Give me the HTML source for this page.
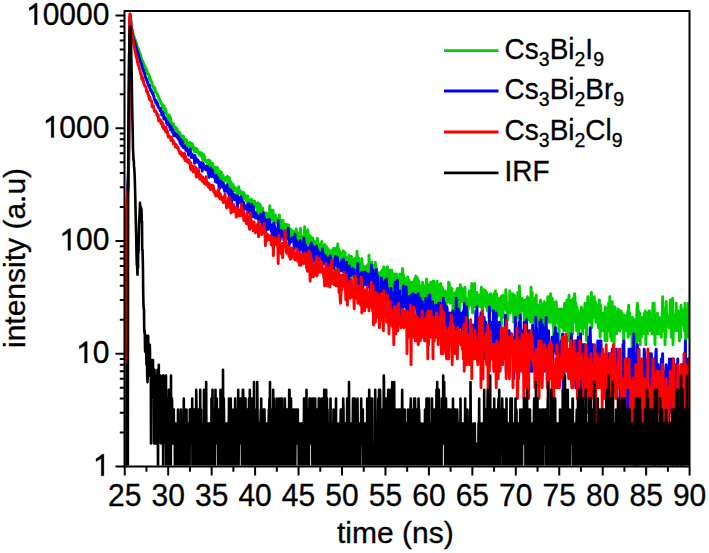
<!DOCTYPE html>
<html><head><meta charset="utf-8"><style>
html,body{margin:0;padding:0;background:#fff;}
svg{display:block;}
text{font-family:"Liberation Sans",sans-serif;fill:#000;}
.ax text{font-size:30px;}
.tk text{font-size:30px;}
text{stroke:#000;stroke-width:0.3px;}
.lg{font-size:28px;}
.sb{font-size:19.5px;}
</style></head><body>
<svg width="709" height="553" viewBox="0 0 709 553">
<defs><clipPath id="cp"><rect x="125.5" y="12" width="563.5" height="453.5"/></clipPath></defs>
<g clip-path="url(#cp)">
<path d="M121.0 490.0L121.4 490.0L121.8 490.0L122.2 490.0L122.6 490.0L123.0 490.0L123.4 490.0L123.8 490.0L124.2 466.5L124.6 490.0L125.0 490.0L125.4 490.0L125.8 282.3L126.2 229.7L126.6 212.8L127.0 204.0L127.4 197.7L127.8 185.6L128.2 180.6L128.6 164.4L129.0 127.9L129.4 55.9L129.8 20.6L130.2 15.9L130.6 17.8L131.0 22.4L131.4 26.0L131.8 28.7L132.2 29.4L132.6 31.4L133.0 32.7L133.4 35.5L133.8 37.0L134.2 37.1L134.6 38.6L135.0 40.1L135.4 39.9L135.8 42.0L136.2 42.4L136.6 43.8L137.0 45.6L137.4 47.8L137.8 47.6L138.2 48.4L138.6 50.3L139.0 51.2L139.4 52.0L139.8 53.7L140.2 54.3L140.6 55.0L141.0 57.6L141.4 58.0L141.8 60.1L142.2 60.2L142.6 60.8L143.0 62.4L143.4 62.7L143.8 64.3L144.2 64.6L144.6 66.4L145.0 66.6L145.4 67.7L145.8 69.6L146.2 68.7L146.6 70.7L147.0 71.0L147.4 73.4L147.8 74.2L148.2 74.0L148.6 74.0L149.0 75.7L149.4 78.7L149.8 76.6L150.2 80.8L150.6 79.2L151.0 81.9L151.4 82.0L151.8 81.7L152.2 84.6L152.6 85.5L153.0 86.3L153.4 86.7L153.8 88.4L154.2 86.9L154.6 88.0L155.0 88.6L155.4 92.3L155.8 92.2L156.2 91.8L156.6 92.9L157.0 93.4L157.4 94.8L157.8 96.1L158.2 95.9L158.6 97.3L159.0 99.0L159.4 98.9L159.8 100.2L160.2 101.0L160.6 101.4L161.0 103.5L161.4 102.7L161.8 104.5L162.2 105.5L162.6 107.7L163.0 104.8L163.4 107.5L163.8 106.1L164.2 106.5L164.6 111.8L165.0 110.0L165.4 110.2L165.8 109.1L166.2 111.7L166.6 114.5L167.0 113.9L167.4 115.0L167.8 116.2L168.2 114.9L168.6 117.6L169.0 118.6L169.4 114.9L169.8 119.6L170.2 118.7L170.6 117.7L171.0 120.9L171.4 123.6L171.8 124.2L172.2 125.7L172.6 124.2L173.0 126.9L173.4 123.6L173.8 126.0L174.2 128.1L174.6 127.4L175.0 126.7L175.4 128.8L175.8 129.3L176.2 127.6L176.6 130.8L177.0 128.8L177.4 131.1L177.8 131.4L178.2 131.3L178.6 132.2L179.0 132.8L179.4 133.2L179.8 132.6L180.2 137.6L180.6 137.4L181.0 136.0L181.4 135.5L181.8 136.0L182.2 136.7L182.6 136.7L183.0 139.1L183.4 136.2L183.8 138.4L184.2 139.0L184.6 142.4L185.0 142.6L185.4 144.7L185.8 139.5L186.2 143.1L186.6 140.3L187.0 145.0L187.4 144.5L187.8 142.9L188.2 144.2L188.6 145.9L189.0 143.7L189.4 145.6L189.8 142.5L190.2 143.6L190.6 149.2L191.0 143.1L191.4 146.6L191.8 145.9L192.2 148.9L192.6 143.9L193.0 149.4L193.4 147.9L193.8 147.4L194.2 151.9L194.6 147.6L195.0 148.2L195.4 151.4L195.8 148.4L196.2 151.6L196.6 148.7L197.0 149.1L197.4 150.0L197.8 153.0L198.2 153.0L198.6 151.8L199.0 152.8L199.4 152.9L199.8 155.2L200.2 153.2L200.6 155.9L201.0 154.1L201.4 152.6L201.8 152.9L202.2 157.5L202.6 159.2L203.0 160.1L203.4 156.0L203.8 154.4L204.2 157.8L204.6 156.3L205.0 160.9L205.4 159.7L205.8 161.0L206.2 161.7L206.6 161.2L207.0 160.4L207.4 163.4L207.8 165.2L208.2 161.0L208.6 165.1L209.0 159.9L209.4 168.7L209.8 161.5L210.2 160.9L210.6 163.7L211.0 163.0L211.4 166.1L211.8 169.2L212.2 164.5L212.6 163.2L213.0 166.9L213.4 168.8L213.8 167.0L214.2 168.2L214.6 172.8L215.0 167.1L215.4 171.9L215.8 169.1L216.2 170.1L216.6 173.9L217.0 167.2L217.4 174.0L217.8 168.1L218.2 178.8L218.6 171.3L219.0 176.0L219.4 172.1L219.8 171.2L220.2 173.2L220.6 176.4L221.0 181.5L221.4 172.3L221.8 175.0L222.2 177.1L222.6 177.2L223.0 175.2L223.4 178.5L223.8 177.3L224.2 181.4L224.6 179.8L225.0 179.9L225.4 178.0L225.8 177.6L226.2 180.8L226.6 178.5L227.0 178.3L227.4 176.5L227.8 177.9L228.2 182.7L228.6 187.2L229.0 178.5L229.4 177.7L229.8 187.2L230.2 181.5L230.6 181.4L231.0 186.9L231.4 184.0L231.8 184.5L232.2 191.8L232.6 183.9L233.0 184.7L233.4 186.2L233.8 191.1L234.2 187.2L234.6 187.9L235.0 189.0L235.4 187.7L235.8 189.9L236.2 190.2L236.6 190.6L237.0 195.5L237.4 190.4L237.8 189.4L238.2 192.2L238.6 186.6L239.0 188.5L239.4 193.3L239.8 190.4L240.2 190.4L240.6 193.1L241.0 192.4L241.4 195.5L241.8 192.9L242.2 192.2L242.6 200.0L243.0 195.5L243.4 192.5L243.8 192.9L244.2 198.7L244.6 198.5L245.0 194.8L245.4 198.1L245.8 197.5L246.2 200.6L246.6 200.9L247.0 197.3L247.4 196.1L247.8 195.9L248.2 205.1L248.6 203.5L249.0 207.8L249.4 200.4L249.8 204.9L250.2 199.6L250.6 202.4L251.0 203.7L251.4 210.3L251.8 199.4L252.2 207.8L252.6 201.5L253.0 209.6L253.4 203.3L253.8 202.4L254.2 204.7L254.6 200.9L255.0 205.6L255.4 204.9L255.8 207.3L256.2 203.1L256.6 207.6L257.0 207.3L257.4 216.8L257.8 211.4L258.2 202.6L258.6 209.1L259.0 205.6L259.4 207.1L259.8 216.2L260.2 204.4L260.6 207.3L261.0 211.4L261.4 216.2L261.8 209.8L262.2 211.7L262.6 208.0L263.0 212.8L263.4 223.5L263.8 224.5L264.2 213.3L264.6 224.9L265.0 215.3L265.4 218.0L265.8 212.8L266.2 214.4L266.6 216.5L267.0 213.3L267.4 217.7L267.8 218.9L268.2 221.5L268.6 219.5L269.0 218.0L269.4 216.8L269.8 205.6L270.2 224.5L270.6 209.8L271.0 219.9L271.4 213.3L271.8 216.5L272.2 211.9L272.6 217.4L273.0 210.3L273.4 215.0L273.8 223.5L274.2 214.7L274.6 223.8L275.0 218.6L275.4 215.0L275.8 219.5L276.2 220.2L276.6 217.7L277.0 222.5L277.4 220.2L277.8 221.1L278.2 220.2L278.6 226.7L279.0 222.1L279.4 215.0L279.8 226.3L280.2 227.8L280.6 227.8L281.0 228.5L281.4 220.5L281.8 233.7L282.2 221.8L282.6 228.5L283.0 220.2L283.4 232.1L283.8 230.5L284.2 234.6L284.6 224.9L285.0 226.3L285.4 227.4L285.8 224.2L286.2 228.5L286.6 224.5L287.0 230.5L287.4 226.7L287.8 232.1L288.2 230.1L288.6 224.9L289.0 233.7L289.4 229.7L289.8 231.7L290.2 231.7L290.6 229.3L291.0 238.1L291.4 232.5L291.8 231.7L292.2 232.1L292.6 230.9L293.0 233.7L293.4 236.3L293.8 240.5L294.2 233.3L294.6 231.7L295.0 232.1L295.4 237.2L295.8 237.7L296.2 228.9L296.6 231.7L297.0 235.5L297.4 238.6L297.8 243.0L298.2 237.7L298.6 244.0L299.0 232.9L299.4 233.7L299.8 235.5L300.2 238.6L300.6 228.2L301.0 240.0L301.4 240.5L301.8 243.5L302.2 236.3L302.6 236.8L303.0 247.3L303.4 237.2L303.8 243.5L304.2 245.1L304.6 226.7L305.0 235.5L305.4 239.1L305.8 237.2L306.2 234.2L306.6 242.0L307.0 247.8L307.4 248.4L307.8 229.7L308.2 242.0L308.6 249.5L309.0 241.5L309.4 244.0L309.8 235.5L310.2 249.5L310.6 237.7L311.0 236.8L311.4 249.0L311.8 248.4L312.2 249.0L312.6 238.1L313.0 242.0L313.4 241.5L313.8 242.5L314.2 241.0L314.6 246.2L315.0 252.5L315.4 246.7L315.8 245.6L316.2 248.4L316.6 242.0L317.0 247.8L317.4 238.1L317.8 249.0L318.2 253.2L318.6 251.3L319.0 247.8L319.4 246.2L319.8 250.1L320.2 244.0L320.6 252.5L321.0 253.2L321.4 246.2L321.8 241.5L322.2 246.2L322.6 245.6L323.0 255.7L323.4 249.5L323.8 252.5L324.2 248.4L324.6 246.2L325.0 244.6L325.4 258.5L325.8 249.5L326.2 252.5L326.6 246.7L327.0 257.1L327.4 251.3L327.8 248.4L328.2 255.7L328.6 251.9L329.0 250.1L329.4 251.3L329.8 255.7L330.2 255.7L330.6 256.4L331.0 255.7L331.4 257.8L331.8 261.3L332.2 250.1L332.6 258.5L333.0 257.8L333.4 248.4L333.8 257.1L334.2 253.2L334.6 254.4L335.0 248.4L335.4 249.0L335.8 272.1L336.2 255.7L336.6 262.1L337.0 247.3L337.4 258.5L337.8 244.0L338.2 251.3L338.6 249.0L339.0 267.7L339.4 267.7L339.8 254.4L340.2 251.3L340.6 257.1L341.0 258.5L341.4 253.8L341.8 269.4L342.2 259.9L342.6 257.8L343.0 257.8L343.4 250.7L343.8 265.2L344.2 270.3L344.6 262.9L345.0 252.5L345.4 262.1L345.8 257.8L346.2 257.1L346.6 270.3L347.0 261.3L347.4 263.6L347.8 268.5L348.2 261.3L348.6 257.8L349.0 255.1L349.4 269.4L349.8 257.8L350.2 265.2L350.6 274.0L351.0 261.3L351.4 256.4L351.8 274.9L352.2 270.3L352.6 266.0L353.0 276.9L353.4 259.9L353.8 259.2L354.2 262.9L354.6 262.9L355.0 258.5L355.4 261.3L355.8 275.9L356.2 276.9L356.6 262.9L357.0 251.3L357.4 259.9L357.8 262.9L358.2 262.1L358.6 257.8L359.0 279.0L359.4 270.3L359.8 271.2L360.2 274.9L360.6 266.0L361.0 262.1L361.4 263.6L361.8 258.5L362.2 263.6L362.6 266.0L363.0 272.1L363.4 269.4L363.8 266.8L364.2 279.0L364.6 273.0L365.0 274.0L365.4 266.8L365.8 275.9L366.2 272.1L366.6 266.0L367.0 269.4L367.4 274.9L367.8 275.9L368.2 264.4L368.6 275.9L369.0 255.1L369.4 272.1L369.8 265.2L370.2 264.4L370.6 262.1L371.0 265.2L371.4 276.9L371.8 262.1L372.2 269.4L372.6 265.2L373.0 274.9L373.4 271.2L373.8 276.9L374.2 273.0L374.6 270.3L375.0 268.5L375.4 262.1L375.8 274.9L376.2 287.1L376.6 268.5L377.0 276.9L377.4 278.0L377.8 276.9L378.2 274.0L378.6 273.0L379.0 276.9L379.4 273.0L379.8 284.7L380.2 279.0L380.6 285.9L381.0 278.0L381.4 271.2L381.8 279.0L382.2 270.3L382.6 280.1L383.0 276.9L383.4 274.0L383.8 266.8L384.2 293.8L384.6 278.0L385.0 268.5L385.4 274.0L385.8 280.1L386.2 300.0L386.6 275.9L387.0 282.3L387.4 266.8L387.8 285.9L388.2 274.9L388.6 279.0L389.0 289.7L389.4 278.0L389.8 270.3L390.2 276.9L390.6 279.0L391.0 279.0L391.4 292.4L391.8 270.3L392.2 305.1L392.6 275.9L393.0 279.0L393.4 274.0L393.8 276.9L394.2 280.1L394.6 274.0L395.0 276.9L395.4 278.0L395.8 282.3L396.2 279.0L396.6 274.0L397.0 291.0L397.4 284.7L397.8 281.2L398.2 279.0L398.6 284.7L399.0 293.8L399.4 281.2L399.8 274.0L400.2 276.9L400.6 287.1L401.0 287.1L401.4 274.9L401.8 291.0L402.2 274.9L402.6 268.5L403.0 274.0L403.4 274.9L403.8 276.9L404.2 289.7L404.6 278.0L405.0 285.9L405.4 288.4L405.8 298.3L406.2 285.9L406.6 315.1L407.0 279.0L407.4 289.7L407.8 276.9L408.2 295.3L408.6 291.0L409.0 280.1L409.4 283.5L409.8 310.9L410.2 282.3L410.6 287.1L411.0 283.5L411.4 285.9L411.8 288.4L412.2 301.6L412.6 282.3L413.0 307.0L413.4 292.4L413.8 291.0L414.2 295.3L414.6 279.0L415.0 282.3L415.4 281.2L415.8 275.9L416.2 289.7L416.6 298.3L417.0 298.3L417.4 278.0L417.8 288.4L418.2 280.1L418.6 291.0L419.0 281.2L419.4 300.0L419.8 292.4L420.2 285.9L420.6 307.0L421.0 298.3L421.4 305.1L421.8 298.3L422.2 289.7L422.6 282.3L423.0 292.4L423.4 303.3L423.8 296.8L424.2 295.3L424.6 285.9L425.0 289.7L425.4 285.9L425.8 288.4L426.2 288.4L426.6 279.0L427.0 296.8L427.4 305.1L427.8 303.3L428.2 284.7L428.6 305.1L429.0 287.1L429.4 308.9L429.8 296.8L430.2 305.1L430.6 282.3L431.0 291.0L431.4 293.8L431.8 292.4L432.2 283.5L432.6 300.0L433.0 281.2L433.4 301.6L433.8 281.2L434.2 296.8L434.6 300.0L435.0 305.1L435.4 287.1L435.8 288.4L436.2 288.4L436.6 298.3L437.0 281.2L437.4 313.0L437.8 284.7L438.2 289.7L438.6 300.0L439.0 307.0L439.4 287.1L439.8 291.0L440.2 300.0L440.6 283.5L441.0 303.3L441.4 289.7L441.8 305.1L442.2 287.1L442.6 289.7L443.0 292.4L443.4 301.6L443.8 292.4L444.2 310.9L444.6 292.4L445.0 305.1L445.4 291.0L445.8 298.3L446.2 305.1L446.6 300.0L447.0 298.3L447.4 300.0L447.8 295.3L448.2 300.0L448.6 282.3L449.0 301.6L449.4 283.5L449.8 303.3L450.2 287.1L450.6 298.3L451.0 293.8L451.4 291.0L451.8 288.4L452.2 303.3L452.6 295.3L453.0 310.9L453.4 293.8L453.8 313.0L454.2 301.6L454.6 296.8L455.0 295.3L455.4 292.4L455.8 303.3L456.2 300.0L456.6 301.6L457.0 289.7L457.4 288.4L457.8 317.4L458.2 319.8L458.6 296.8L459.0 308.9L459.4 325.0L459.8 303.3L460.2 284.7L460.6 298.3L461.0 287.1L461.4 292.4L461.8 293.8L462.2 288.4L462.6 301.6L463.0 292.4L463.4 301.6L463.8 291.0L464.2 289.7L464.6 296.8L465.0 287.1L465.4 301.6L465.8 298.3L466.2 300.0L466.6 307.0L467.0 315.1L467.4 327.8L467.8 303.3L468.2 308.9L468.6 301.6L469.0 292.4L469.4 291.0L469.8 298.3L470.2 300.0L470.6 305.1L471.0 293.8L471.4 295.3L471.8 283.5L472.2 307.0L472.6 313.0L473.0 303.3L473.4 292.4L473.8 291.0L474.2 307.0L474.6 283.5L475.0 307.0L475.4 307.0L475.8 303.3L476.2 300.0L476.6 293.8L477.0 292.4L477.4 307.0L477.8 303.3L478.2 301.6L478.6 295.3L479.0 296.8L479.4 301.6L479.8 296.8L480.2 296.8L480.6 307.0L481.0 292.4L481.4 287.1L481.8 291.0L482.2 308.9L482.6 317.4L483.0 298.3L483.4 292.4L483.8 289.7L484.2 296.8L484.6 300.0L485.0 292.4L485.4 305.1L485.8 291.0L486.2 307.0L486.6 292.4L487.0 296.8L487.4 310.9L487.8 305.1L488.2 296.8L488.6 296.8L489.0 317.4L489.4 295.3L489.8 308.9L490.2 308.9L490.6 293.8L491.0 305.1L491.4 310.9L491.8 301.6L492.2 307.0L492.6 308.9L493.0 303.3L493.4 301.6L493.8 293.8L494.2 300.0L494.6 313.0L495.0 303.3L495.4 291.0L495.8 307.0L496.2 313.0L496.6 293.8L497.0 317.4L497.4 315.1L497.8 308.9L498.2 298.3L498.6 305.1L499.0 315.1L499.4 303.3L499.8 315.1L500.2 313.0L500.6 305.1L501.0 296.8L501.4 325.0L501.8 298.3L502.2 305.1L502.6 295.3L503.0 317.4L503.4 307.0L503.8 301.6L504.2 308.9L504.6 307.0L505.0 301.6L505.4 298.3L505.8 289.7L506.2 293.8L506.6 310.9L507.0 307.0L507.4 317.4L507.8 319.8L508.2 310.9L508.6 303.3L509.0 308.9L509.4 313.0L509.8 291.0L510.2 313.0L510.6 303.3L511.0 293.8L511.4 310.9L511.8 300.0L512.2 305.1L512.6 293.8L513.0 310.9L513.4 308.9L513.8 322.3L514.2 317.4L514.6 295.3L515.0 313.0L515.4 300.0L515.8 303.3L516.2 319.8L516.6 313.0L517.0 301.6L517.4 317.4L517.8 292.4L518.2 310.9L518.6 307.0L519.0 308.9L519.4 285.9L519.8 308.9L520.2 337.3L520.6 310.9L521.0 305.1L521.4 300.0L521.8 300.0L522.2 298.3L522.6 305.1L523.0 300.0L523.4 310.9L523.8 305.1L524.2 319.8L524.6 313.0L525.0 307.0L525.4 300.0L525.8 330.7L526.2 315.1L526.6 315.1L527.0 319.8L527.4 296.8L527.8 315.1L528.2 308.9L528.6 319.8L529.0 305.1L529.4 298.3L529.8 319.8L530.2 305.1L530.6 322.3L531.0 287.1L531.4 298.3L531.8 317.4L532.2 292.4L532.6 303.3L533.0 308.9L533.4 322.3L533.8 305.1L534.2 317.4L534.6 298.3L535.0 315.1L535.4 300.0L535.8 310.9L536.2 295.3L536.6 325.0L537.0 307.0L537.4 322.3L537.8 305.1L538.2 308.9L538.6 325.0L539.0 308.9L539.4 319.8L539.8 317.4L540.2 305.1L540.6 300.0L541.0 327.8L541.4 319.8L541.8 313.0L542.2 305.1L542.6 310.9L543.0 307.0L543.4 340.9L543.8 303.3L544.2 301.6L544.6 310.9L545.0 303.3L545.4 305.1L545.8 307.0L546.2 307.0L546.6 315.1L547.0 315.1L547.4 317.4L547.8 296.8L548.2 317.4L548.6 319.8L549.0 322.3L549.4 317.4L549.8 317.4L550.2 322.3L550.6 293.8L551.0 319.8L551.4 301.6L551.8 307.0L552.2 298.3L552.6 307.0L553.0 325.0L553.4 310.9L553.8 349.1L554.2 303.3L554.6 319.8L555.0 330.7L555.4 308.9L555.8 301.6L556.2 301.6L556.6 310.9L557.0 322.3L557.4 315.1L557.8 308.9L558.2 322.3L558.6 308.9L559.0 344.8L559.4 313.0L559.8 317.4L560.2 317.4L560.6 317.4L561.0 308.9L561.4 325.0L561.8 308.9L562.2 327.8L562.6 325.0L563.0 327.8L563.4 319.8L563.8 330.7L564.2 315.1L564.6 303.3L565.0 313.0L565.4 322.3L565.8 315.1L566.2 330.7L566.6 307.0L567.0 300.0L567.4 301.6L567.8 308.9L568.2 313.0L568.6 340.9L569.0 295.3L569.4 325.0L569.8 333.9L570.2 313.0L570.6 315.1L571.0 303.3L571.4 305.1L571.8 300.0L572.2 303.3L572.6 333.9L573.0 319.8L573.4 298.3L573.8 301.6L574.2 308.9L574.6 293.8L575.0 296.8L575.4 322.3L575.8 303.3L576.2 308.9L576.6 330.7L577.0 307.0L577.4 319.8L577.8 310.9L578.2 310.9L578.6 340.9L579.0 333.9L579.4 315.1L579.8 313.0L580.2 327.8L580.6 317.4L581.0 322.3L581.4 307.0L581.8 313.0L582.2 317.4L582.6 333.9L583.0 315.1L583.4 310.9L583.8 327.8L584.2 310.9L584.6 308.9L585.0 303.3L585.4 315.1L585.8 327.8L586.2 322.3L586.6 340.9L587.0 315.1L587.4 317.4L587.8 296.8L588.2 296.8L588.6 313.0L589.0 307.0L589.4 315.1L589.8 322.3L590.2 315.1L590.6 322.3L591.0 319.8L591.4 292.4L591.8 327.8L592.2 319.8L592.6 317.4L593.0 317.4L593.4 305.1L593.8 310.9L594.2 296.8L594.6 313.0L595.0 317.4L595.4 301.6L595.8 322.3L596.2 305.1L596.6 315.1L597.0 305.1L597.4 305.1L597.8 308.9L598.2 327.8L598.6 327.8L599.0 303.3L599.4 300.0L599.8 325.0L600.2 337.3L600.6 305.1L601.0 315.1L601.4 322.3L601.8 330.7L602.2 315.1L602.6 330.7L603.0 322.3L603.4 313.0L603.8 322.3L604.2 325.0L604.6 315.1L605.0 340.9L605.4 307.0L605.8 315.1L606.2 319.8L606.6 327.8L607.0 340.9L607.4 317.4L607.8 315.1L608.2 317.4L608.6 303.3L609.0 319.8L609.4 330.7L609.8 296.8L610.2 322.3L610.6 337.3L611.0 305.1L611.4 310.9L611.8 340.9L612.2 301.6L612.6 322.3L613.0 317.4L613.4 319.8L613.8 308.9L614.2 344.8L614.6 313.0L615.0 307.0L615.4 325.0L615.8 313.0L616.2 327.8L616.6 333.9L617.0 322.3L617.4 330.7L617.8 317.4L618.2 308.9L618.6 310.9L619.0 313.0L619.4 322.3L619.8 330.7L620.2 327.8L620.6 317.4L621.0 310.9L621.4 322.3L621.8 327.8L622.2 313.0L622.6 325.0L623.0 325.0L623.4 319.8L623.8 344.8L624.2 317.4L624.6 315.1L625.0 319.8L625.4 322.3L625.8 322.3L626.2 315.1L626.6 330.7L627.0 317.4L627.4 317.4L627.8 310.9L628.2 337.3L628.6 305.1L629.0 325.0L629.4 317.4L629.8 313.0L630.2 333.9L630.6 330.7L631.0 322.3L631.4 325.0L631.8 325.0L632.2 358.9L632.6 317.4L633.0 340.9L633.4 319.8L633.8 327.8L634.2 327.8L634.6 325.0L635.0 319.8L635.4 340.9L635.8 349.1L636.2 358.9L636.6 319.8L637.0 308.9L637.4 303.3L637.8 307.0L638.2 325.0L638.6 310.9L639.0 340.9L639.4 319.8L639.8 313.0L640.2 344.8L640.6 317.4L641.0 317.4L641.4 337.3L641.8 322.3L642.2 319.8L642.6 327.8L643.0 317.4L643.4 333.9L643.8 319.8L644.2 317.4L644.6 313.0L645.0 322.3L645.4 310.9L645.8 344.8L646.2 330.7L646.6 319.8L647.0 330.7L647.4 333.9L647.8 313.0L648.2 327.8L648.6 313.0L649.0 310.9L649.4 310.9L649.8 315.1L650.2 330.7L650.6 317.4L651.0 319.8L651.4 317.4L651.8 322.3L652.2 333.9L652.6 313.0L653.0 303.3L653.4 310.9L653.8 333.9L654.2 303.3L654.6 325.0L655.0 344.8L655.4 317.4L655.8 322.3L656.2 315.1L656.6 330.7L657.0 325.0L657.4 313.0L657.8 333.9L658.2 325.0L658.6 317.4L659.0 317.4L659.4 333.9L659.8 319.8L660.2 319.8L660.6 319.8L661.0 333.9L661.4 337.3L661.8 319.8L662.2 313.0L662.6 296.8L663.0 310.9L663.4 330.7L663.8 330.7L664.2 315.1L664.6 308.9L665.0 344.8L665.4 317.4L665.8 337.3L666.2 301.6L666.6 315.1L667.0 315.1L667.4 319.8L667.8 325.0L668.2 322.3L668.6 317.4L669.0 327.8L669.4 327.8L669.8 317.4L670.2 300.0L670.6 325.0L671.0 319.8L671.4 337.3L671.8 308.9L672.2 325.0L672.6 298.3L673.0 344.8L673.4 325.0L673.8 325.0L674.2 322.3L674.6 315.1L675.0 322.3L675.4 319.8L675.8 330.7L676.2 303.3L676.6 313.0L677.0 327.8L677.4 330.7L677.8 310.9L678.2 315.1L678.6 317.4L679.0 315.1L679.4 340.9L679.8 310.9L680.2 319.8L680.6 337.3L681.0 305.1L681.4 319.8L681.8 308.9L682.2 315.1L682.6 317.4L683.0 325.0L683.4 322.3L683.8 315.1L684.2 330.7L684.6 319.8L685.0 303.3L685.4 327.8L685.8 340.9L686.2 333.9L686.6 322.3L687.0 327.8L687.4 330.7L687.8 322.3L688.2 303.3L688.6 337.3L689.0 322.3L689.4 310.9L689.8 313.0L690.2 330.7L690.6 308.9L691.0 340.9L691.4 319.8L691.8 303.3L692.2 340.9L692.6 322.3" stroke="#00d000" stroke-width="2.9" fill="none" stroke-linejoin="round"/>
<path d="M121.0 490.0L121.4 490.0L121.8 490.0L122.2 490.0L122.6 490.0L123.0 490.0L123.4 490.0L123.8 490.0L124.2 490.0L124.6 490.0L125.0 490.0L125.4 466.5L125.8 288.4L126.2 228.2L126.6 211.7L127.0 201.1L127.4 193.5L127.8 188.5L128.2 179.9L128.6 166.6L129.0 128.6L129.4 55.0L129.8 20.4L130.2 16.6L130.6 18.5L131.0 24.5L131.4 29.5L131.8 30.3L132.2 33.0L132.6 35.1L133.0 36.1L133.4 38.6L133.8 40.0L134.2 40.3L134.6 42.3L135.0 43.0L135.4 45.6L135.8 46.0L136.2 47.9L136.6 48.9L137.0 50.4L137.4 51.0L137.8 52.8L138.2 54.1L138.6 55.4L139.0 57.7L139.4 58.0L139.8 59.3L140.2 61.4L140.6 61.9L141.0 63.2L141.4 63.5L141.8 65.8L142.2 66.9L142.6 68.3L143.0 70.1L143.4 71.3L143.8 70.1L144.2 73.5L144.6 72.9L145.0 75.3L145.4 76.9L145.8 77.9L146.2 79.7L146.6 79.1L147.0 81.1L147.4 82.0L147.8 83.2L148.2 83.9L148.6 85.7L149.0 84.9L149.4 84.9L149.8 88.4L150.2 88.4L150.6 90.5L151.0 90.1L151.4 91.3L151.8 90.7L152.2 93.2L152.6 92.6L153.0 93.9L153.4 95.4L153.8 95.8L154.2 99.0L154.6 99.5L155.0 99.7L155.4 100.0L155.8 102.8L156.2 100.8L156.6 102.2L157.0 104.7L157.4 102.8L157.8 104.0L158.2 106.7L158.6 107.5L159.0 107.4L159.4 108.5L159.8 108.1L160.2 110.7L160.6 108.4L161.0 111.7L161.4 111.6L161.8 115.1L162.2 113.6L162.6 111.8L163.0 114.5L163.4 113.3L163.8 119.0L164.2 119.1L164.6 117.2L165.0 118.3L165.4 119.4L165.8 118.6L166.2 119.6L166.6 123.2L167.0 121.5L167.4 124.8L167.8 122.7L168.2 121.9L168.6 124.0L169.0 125.0L169.4 124.3L169.8 127.5L170.2 126.0L170.6 130.0L171.0 126.4L171.4 127.9L171.8 130.0L172.2 130.1L172.6 132.5L173.0 130.0L173.4 131.4L173.8 135.8L174.2 132.2L174.6 132.9L175.0 134.8L175.4 135.7L175.8 134.7L176.2 136.0L176.6 133.9L177.0 137.0L177.4 136.0L177.8 135.6L178.2 139.1L178.6 136.6L179.0 137.6L179.4 139.5L179.8 141.4L180.2 143.6L180.6 141.7L181.0 141.1L181.4 139.8L181.8 145.9L182.2 141.1L182.6 144.5L183.0 146.3L183.4 147.7L183.8 146.0L184.2 146.5L184.6 145.9L185.0 147.6L185.4 147.2L185.8 150.4L186.2 148.4L186.6 150.7L187.0 147.9L187.4 151.3L187.8 149.4L188.2 151.7L188.6 155.3L189.0 152.1L189.4 153.4L189.8 154.3L190.2 149.0L190.6 153.8L191.0 154.8L191.4 157.5L191.8 154.1L192.2 154.3L192.6 156.1L193.0 157.3L193.4 156.6L193.8 158.2L194.2 158.4L194.6 163.2L195.0 155.5L195.4 158.2L195.8 159.9L196.2 162.0L196.6 158.9L197.0 160.6L197.4 161.5L197.8 159.9L198.2 161.9L198.6 162.9L199.0 161.7L199.4 162.2L199.8 167.4L200.2 163.4L200.6 167.2L201.0 164.2L201.4 166.4L201.8 162.6L202.2 171.1L202.6 163.8L203.0 163.2L203.4 164.7L203.8 168.2L204.2 165.6L204.6 167.2L205.0 166.3L205.4 169.3L205.8 169.7L206.2 169.3L206.6 166.5L207.0 169.7L207.4 166.4L207.8 168.7L208.2 172.6L208.6 173.7L209.0 177.3L209.4 170.5L209.8 172.0L210.2 174.7L210.6 168.1L211.0 172.9L211.4 174.6L211.8 176.5L212.2 174.2L212.6 170.3L213.0 175.9L213.4 175.0L213.8 177.1L214.2 175.5L214.6 176.3L215.0 176.9L215.4 181.7L215.8 178.1L216.2 175.5L216.6 182.2L217.0 177.9L217.4 178.5L217.8 177.7L218.2 183.0L218.6 182.4L219.0 187.0L219.4 181.9L219.8 188.2L220.2 182.8L220.6 180.9L221.0 186.6L221.4 182.5L221.8 182.1L222.2 185.6L222.6 187.2L223.0 184.8L223.4 183.3L223.8 186.7L224.2 187.5L224.6 191.3L225.0 187.0L225.4 186.4L225.8 188.0L226.2 190.9L226.6 187.9L227.0 184.7L227.4 189.5L227.8 192.5L228.2 192.5L228.6 192.5L229.0 194.6L229.4 196.1L229.8 189.5L230.2 190.4L230.6 190.1L231.0 191.3L231.4 205.6L231.8 197.9L232.2 192.0L232.6 194.0L233.0 199.2L233.4 198.3L233.8 194.4L234.2 197.5L234.6 199.8L235.0 196.3L235.4 195.5L235.8 196.7L236.2 199.4L236.6 200.2L237.0 201.1L237.4 208.0L237.8 195.9L238.2 200.4L238.6 199.4L239.0 199.6L239.4 201.9L239.8 201.7L240.2 202.6L240.6 198.1L241.0 196.7L241.4 200.0L241.8 200.2L242.2 201.1L242.6 206.1L243.0 206.1L243.4 202.2L243.8 203.1L244.2 208.6L244.6 209.1L245.0 205.8L245.4 206.8L245.8 208.6L246.2 209.1L246.6 206.1L247.0 207.8L247.4 208.3L247.8 203.7L248.2 212.2L248.6 203.7L249.0 207.3L249.4 207.6L249.8 213.0L250.2 210.1L250.6 208.8L251.0 216.8L251.4 209.6L251.8 204.4L252.2 213.3L252.6 210.1L253.0 216.5L253.4 206.6L253.8 212.8L254.2 216.8L254.6 214.7L255.0 212.5L255.4 218.0L255.8 213.3L256.2 213.9L256.6 217.1L257.0 216.2L257.4 218.3L257.8 215.9L258.2 217.7L258.6 219.2L259.0 223.8L259.4 218.9L259.8 217.1L260.2 221.1L260.6 214.7L261.0 216.8L261.4 218.0L261.8 221.8L262.2 215.9L262.6 226.7L263.0 218.6L263.4 212.8L263.8 222.5L264.2 216.8L264.6 221.1L265.0 222.1L265.4 225.2L265.8 230.9L266.2 221.5L266.6 221.1L267.0 219.9L267.4 229.7L267.8 224.9L268.2 223.8L268.6 227.4L269.0 227.4L269.4 219.5L269.8 228.9L270.2 227.8L270.6 224.5L271.0 227.4L271.4 231.3L271.8 228.2L272.2 236.8L272.6 227.8L273.0 235.9L273.4 224.9L273.8 223.1L274.2 226.7L274.6 226.3L275.0 236.3L275.4 230.9L275.8 232.5L276.2 229.7L276.6 231.3L277.0 238.1L277.4 232.5L277.8 231.3L278.2 220.8L278.6 230.1L279.0 229.7L279.4 235.0L279.8 241.0L280.2 240.0L280.6 233.7L281.0 230.1L281.4 234.2L281.8 235.5L282.2 231.3L282.6 235.9L283.0 232.5L283.4 233.7L283.8 240.0L284.2 235.5L284.6 234.6L285.0 239.1L285.4 242.0L285.8 233.3L286.2 233.7L286.6 234.2L287.0 236.8L287.4 238.6L287.8 235.5L288.2 228.2L288.6 232.9L289.0 245.6L289.4 243.5L289.8 241.0L290.2 242.5L290.6 239.6L291.0 239.6L291.4 241.5L291.8 238.1L292.2 241.0L292.6 238.1L293.0 237.7L293.4 241.5L293.8 240.5L294.2 249.0L294.6 239.1L295.0 234.2L295.4 243.0L295.8 244.6L296.2 240.5L296.6 241.0L297.0 246.2L297.4 247.8L297.8 244.0L298.2 244.0L298.6 245.1L299.0 254.4L299.4 247.3L299.8 243.0L300.2 240.5L300.6 246.7L301.0 244.0L301.4 249.0L301.8 249.5L302.2 247.3L302.6 249.0L303.0 252.5L303.4 251.9L303.8 238.1L304.2 241.5L304.6 248.4L305.0 245.1L305.4 250.1L305.8 245.1L306.2 250.7L306.6 253.2L307.0 247.8L307.4 253.2L307.8 253.2L308.2 250.1L308.6 249.0L309.0 255.7L309.4 248.4L309.8 247.3L310.2 249.5L310.6 247.3L311.0 244.0L311.4 243.0L311.8 251.3L312.2 262.9L312.6 245.6L313.0 254.4L313.4 253.8L313.8 248.4L314.2 259.9L314.6 256.4L315.0 256.4L315.4 247.3L315.8 266.8L316.2 248.4L316.6 246.2L317.0 253.2L317.4 249.5L317.8 259.9L318.2 251.3L318.6 262.1L319.0 256.4L319.4 254.4L319.8 253.2L320.2 257.8L320.6 254.4L321.0 259.2L321.4 255.1L321.8 259.9L322.2 252.5L322.6 249.0L323.0 260.6L323.4 263.6L323.8 259.9L324.2 263.6L324.6 255.1L325.0 260.6L325.4 261.3L325.8 256.4L326.2 262.9L326.6 264.4L327.0 266.0L327.4 263.6L327.8 268.5L328.2 258.5L328.6 259.9L329.0 267.7L329.4 264.4L329.8 259.9L330.2 255.7L330.6 264.4L331.0 262.9L331.4 273.0L331.8 259.9L332.2 260.6L332.6 263.6L333.0 265.2L333.4 268.5L333.8 266.0L334.2 265.2L334.6 264.4L335.0 259.9L335.4 256.4L335.8 262.9L336.2 262.1L336.6 259.2L337.0 266.0L337.4 257.8L337.8 264.4L338.2 266.0L338.6 271.2L339.0 270.3L339.4 263.6L339.8 271.2L340.2 267.7L340.6 267.7L341.0 264.4L341.4 268.5L341.8 260.6L342.2 268.5L342.6 271.2L343.0 263.6L343.4 259.2L343.8 264.4L344.2 267.7L344.6 271.2L345.0 280.1L345.4 288.4L345.8 274.9L346.2 265.2L346.6 262.1L347.0 282.3L347.4 281.2L347.8 273.0L348.2 266.8L348.6 266.8L349.0 282.3L349.4 266.0L349.8 272.1L350.2 274.9L350.6 275.9L351.0 274.9L351.4 270.3L351.8 274.0L352.2 270.3L352.6 268.5L353.0 271.2L353.4 273.0L353.8 269.4L354.2 270.3L354.6 275.9L355.0 280.1L355.4 278.0L355.8 287.1L356.2 275.9L356.6 278.0L357.0 274.9L357.4 278.0L357.8 263.6L358.2 284.7L358.6 274.9L359.0 285.9L359.4 288.4L359.8 276.9L360.2 284.7L360.6 284.7L361.0 273.0L361.4 276.9L361.8 285.9L362.2 273.0L362.6 310.9L363.0 272.1L363.4 272.1L363.8 279.0L364.2 284.7L364.6 284.7L365.0 272.1L365.4 280.1L365.8 278.0L366.2 283.5L366.6 284.7L367.0 274.0L367.4 284.7L367.8 287.1L368.2 283.5L368.6 279.0L369.0 285.9L369.4 274.0L369.8 280.1L370.2 291.0L370.6 288.4L371.0 289.7L371.4 265.2L371.8 284.7L372.2 284.7L372.6 285.9L373.0 270.3L373.4 275.9L373.8 293.8L374.2 278.0L374.6 284.7L375.0 279.0L375.4 282.3L375.8 305.1L376.2 269.4L376.6 292.4L377.0 285.9L377.4 288.4L377.8 275.9L378.2 284.7L378.6 295.3L379.0 289.7L379.4 288.4L379.8 288.4L380.2 296.8L380.6 296.8L381.0 319.8L381.4 278.0L381.8 288.4L382.2 281.2L382.6 291.0L383.0 282.3L383.4 293.8L383.8 298.3L384.2 307.0L384.6 301.6L385.0 287.1L385.4 280.1L385.8 303.3L386.2 288.4L386.6 279.0L387.0 292.4L387.4 287.1L387.8 292.4L388.2 300.0L388.6 291.0L389.0 291.0L389.4 301.6L389.8 310.9L390.2 298.3L390.6 319.8L391.0 288.4L391.4 307.0L391.8 292.4L392.2 300.0L392.6 325.0L393.0 301.6L393.4 296.8L393.8 295.3L394.2 310.9L394.6 310.9L395.0 282.3L395.4 282.3L395.8 291.0L396.2 322.3L396.6 285.9L397.0 305.1L397.4 280.1L397.8 301.6L398.2 315.1L398.6 307.0L399.0 296.8L399.4 301.6L399.8 291.0L400.2 305.1L400.6 303.3L401.0 298.3L401.4 322.3L401.8 307.0L402.2 305.1L402.6 305.1L403.0 295.3L403.4 285.9L403.8 292.4L404.2 307.0L404.6 305.1L405.0 303.3L405.4 298.3L405.8 293.8L406.2 287.1L406.6 301.6L407.0 313.0L407.4 310.9L407.8 298.3L408.2 300.0L408.6 308.9L409.0 296.8L409.4 296.8L409.8 303.3L410.2 308.9L410.6 301.6L411.0 305.1L411.4 295.3L411.8 300.0L412.2 295.3L412.6 308.9L413.0 293.8L413.4 313.0L413.8 308.9L414.2 300.0L414.6 295.3L415.0 307.0L415.4 295.3L415.8 307.0L416.2 300.0L416.6 301.6L417.0 315.1L417.4 308.9L417.8 327.8L418.2 293.8L418.6 315.1L419.0 337.3L419.4 303.3L419.8 298.3L420.2 298.3L420.6 307.0L421.0 310.9L421.4 330.7L421.8 310.9L422.2 301.6L422.6 315.1L423.0 317.4L423.4 325.0L423.8 313.0L424.2 305.1L424.6 313.0L425.0 337.3L425.4 327.8L425.8 298.3L426.2 327.8L426.6 325.0L427.0 315.1L427.4 310.9L427.8 330.7L428.2 327.8L428.6 300.0L429.0 295.3L429.4 330.7L429.8 295.3L430.2 317.4L430.6 315.1L431.0 325.0L431.4 322.3L431.8 317.4L432.2 319.8L432.6 301.6L433.0 315.1L433.4 313.0L433.8 315.1L434.2 315.1L434.6 319.8L435.0 325.0L435.4 315.1L435.8 305.1L436.2 308.9L436.6 313.0L437.0 325.0L437.4 310.9L437.8 317.4L438.2 337.3L438.6 303.3L439.0 310.9L439.4 337.3L439.8 322.3L440.2 303.3L440.6 317.4L441.0 308.9L441.4 325.0L441.8 315.1L442.2 307.0L442.6 313.0L443.0 317.4L443.4 298.3L443.8 313.0L444.2 322.3L444.6 303.3L445.0 308.9L445.4 333.9L445.8 325.0L446.2 322.3L446.6 340.9L447.0 307.0L447.4 317.4L447.8 337.3L448.2 315.1L448.6 325.0L449.0 322.3L449.4 313.0L449.8 325.0L450.2 322.3L450.6 333.9L451.0 325.0L451.4 313.0L451.8 313.0L452.2 325.0L452.6 319.8L453.0 310.9L453.4 319.8L453.8 315.1L454.2 313.0L454.6 337.3L455.0 325.0L455.4 322.3L455.8 337.3L456.2 298.3L456.6 340.9L457.0 315.1L457.4 327.8L457.8 322.3L458.2 308.9L458.6 317.4L459.0 315.1L459.4 325.0L459.8 327.8L460.2 319.8L460.6 313.0L461.0 315.1L461.4 322.3L461.8 325.0L462.2 317.4L462.6 344.8L463.0 317.4L463.4 310.9L463.8 337.3L464.2 303.3L464.6 353.8L465.0 333.9L465.4 319.8L465.8 308.9L466.2 337.3L466.6 307.0L467.0 322.3L467.4 319.8L467.8 330.7L468.2 333.9L468.6 337.3L469.0 325.0L469.4 327.8L469.8 333.9L470.2 325.0L470.6 327.8L471.0 325.0L471.4 327.8L471.8 333.9L472.2 333.9L472.6 330.7L473.0 340.9L473.4 325.0L473.8 333.9L474.2 330.7L474.6 340.9L475.0 340.9L475.4 330.7L475.8 310.9L476.2 322.3L476.6 358.9L477.0 307.0L477.4 340.9L477.8 349.1L478.2 322.3L478.6 344.8L479.0 337.3L479.4 349.1L479.8 337.3L480.2 319.8L480.6 317.4L481.0 313.0L481.4 322.3L481.8 330.7L482.2 315.1L482.6 337.3L483.0 333.9L483.4 317.4L483.8 344.8L484.2 317.4L484.6 330.7L485.0 344.8L485.4 358.9L485.8 322.3L486.2 333.9L486.6 327.8L487.0 327.8L487.4 349.1L487.8 344.8L488.2 349.1L488.6 344.8L489.0 358.9L489.4 307.0L489.8 353.8L490.2 330.7L490.6 349.1L491.0 322.3L491.4 325.0L491.8 327.8L492.2 325.0L492.6 349.1L493.0 340.9L493.4 310.9L493.8 344.8L494.2 319.8L494.6 330.7L495.0 325.0L495.4 327.8L495.8 322.3L496.2 313.0L496.6 333.9L497.0 349.1L497.4 349.1L497.8 337.3L498.2 327.8L498.6 340.9L499.0 333.9L499.4 322.3L499.8 349.1L500.2 364.7L500.6 340.9L501.0 330.7L501.4 353.8L501.8 337.3L502.2 349.1L502.6 358.9L503.0 337.3L503.4 344.8L503.8 353.8L504.2 340.9L504.6 330.7L505.0 330.7L505.4 315.1L505.8 349.1L506.2 371.2L506.6 349.1L507.0 330.7L507.4 353.8L507.8 344.8L508.2 333.9L508.6 358.9L509.0 330.7L509.4 333.9L509.8 337.3L510.2 340.9L510.6 344.8L511.0 344.8L511.4 333.9L511.8 337.3L512.2 349.1L512.6 353.8L513.0 337.3L513.4 353.8L513.8 378.8L514.2 353.8L514.6 344.8L515.0 337.3L515.4 317.4L515.8 337.3L516.2 337.3L516.6 349.1L517.0 340.9L517.4 344.8L517.8 330.7L518.2 333.9L518.6 337.3L519.0 322.3L519.4 340.9L519.8 344.8L520.2 315.1L520.6 337.3L521.0 349.1L521.4 358.9L521.8 330.7L522.2 330.7L522.6 333.9L523.0 358.9L523.4 349.1L523.8 344.8L524.2 322.3L524.6 344.8L525.0 349.1L525.4 340.9L525.8 349.1L526.2 344.8L526.6 319.8L527.0 349.1L527.4 340.9L527.8 344.8L528.2 344.8L528.6 353.8L529.0 333.9L529.4 330.7L529.8 353.8L530.2 333.9L530.6 353.8L531.0 371.2L531.4 340.9L531.8 353.8L532.2 371.2L532.6 325.0L533.0 353.8L533.4 330.7L533.8 353.8L534.2 344.8L534.6 344.8L535.0 349.1L535.4 364.7L535.8 317.4L536.2 364.7L536.6 327.8L537.0 353.8L537.4 358.9L537.8 344.8L538.2 353.8L538.6 358.9L539.0 340.9L539.4 344.8L539.8 322.3L540.2 364.7L540.6 327.8L541.0 319.8L541.4 337.3L541.8 344.8L542.2 364.7L542.6 325.0L543.0 349.1L543.4 330.7L543.8 349.1L544.2 371.2L544.6 327.8L545.0 353.8L545.4 333.9L545.8 337.3L546.2 317.4L546.6 349.1L547.0 371.2L547.4 333.9L547.8 337.3L548.2 340.9L548.6 330.7L549.0 344.8L549.4 378.8L549.8 344.8L550.2 353.8L550.6 353.8L551.0 364.7L551.4 344.8L551.8 353.8L552.2 337.3L552.6 378.8L553.0 353.8L553.4 349.1L553.8 340.9L554.2 340.9L554.6 333.9L555.0 344.8L555.4 327.8L555.8 344.8L556.2 353.8L556.6 353.8L557.0 353.8L557.4 333.9L557.8 364.7L558.2 358.9L558.6 349.1L559.0 344.8L559.4 364.7L559.8 353.8L560.2 353.8L560.6 364.7L561.0 340.9L561.4 340.9L561.8 371.2L562.2 364.7L562.6 333.9L563.0 364.7L563.4 412.7L563.8 387.7L564.2 364.7L564.6 364.7L565.0 353.8L565.4 344.8L565.8 358.9L566.2 340.9L566.6 353.8L567.0 349.1L567.4 349.1L567.8 353.8L568.2 364.7L568.6 371.2L569.0 364.7L569.4 371.2L569.8 364.7L570.2 353.8L570.6 353.8L571.0 349.1L571.4 333.9L571.8 358.9L572.2 353.8L572.6 349.1L573.0 353.8L573.4 364.7L573.8 349.1L574.2 344.8L574.6 364.7L575.0 353.8L575.4 340.9L575.8 387.7L576.2 387.7L576.6 340.9L577.0 358.9L577.4 364.7L577.8 358.9L578.2 337.3L578.6 387.7L579.0 353.8L579.4 353.8L579.8 340.9L580.2 344.8L580.6 333.9L581.0 398.6L581.4 358.9L581.8 353.8L582.2 378.8L582.6 358.9L583.0 344.8L583.4 344.8L583.8 353.8L584.2 344.8L584.6 371.2L585.0 344.8L585.4 371.2L585.8 378.8L586.2 364.7L586.6 353.8L587.0 378.8L587.4 378.8L587.8 349.1L588.2 387.7L588.6 337.3L589.0 364.7L589.4 387.7L589.8 353.8L590.2 327.8L590.6 344.8L591.0 371.2L591.4 378.8L591.8 371.2L592.2 364.7L592.6 344.8L593.0 364.7L593.4 378.8L593.8 364.7L594.2 378.8L594.6 349.1L595.0 358.9L595.4 364.7L595.8 364.7L596.2 353.8L596.6 387.7L597.0 364.7L597.4 364.7L597.8 340.9L598.2 371.2L598.6 353.8L599.0 378.8L599.4 349.1L599.8 353.8L600.2 340.9L600.6 364.7L601.0 340.9L601.4 364.7L601.8 364.7L602.2 371.2L602.6 358.9L603.0 387.7L603.4 358.9L603.8 378.8L604.2 378.8L604.6 378.8L605.0 358.9L605.4 364.7L605.8 371.2L606.2 371.2L606.6 364.7L607.0 387.7L607.4 387.7L607.8 398.6L608.2 387.7L608.6 353.8L609.0 353.8L609.4 378.8L609.8 358.9L610.2 387.7L610.6 353.8L611.0 398.6L611.4 378.8L611.8 387.7L612.2 349.1L612.6 378.8L613.0 349.1L613.4 349.1L613.8 371.2L614.2 353.8L614.6 349.1L615.0 364.7L615.4 364.7L615.8 378.8L616.2 349.1L616.6 371.2L617.0 371.2L617.4 353.8L617.8 358.9L618.2 358.9L618.6 387.7L619.0 387.7L619.4 371.2L619.8 371.2L620.2 432.6L620.6 412.7L621.0 364.7L621.4 371.2L621.8 378.8L622.2 387.7L622.6 378.8L623.0 344.8L623.4 398.6L623.8 340.9L624.2 364.7L624.6 364.7L625.0 432.6L625.4 378.8L625.8 364.7L626.2 378.8L626.6 398.6L627.0 358.9L627.4 387.7L627.8 378.8L628.2 432.6L628.6 371.2L629.0 349.1L629.4 387.7L629.8 349.1L630.2 378.8L630.6 387.7L631.0 349.1L631.4 353.8L631.8 371.2L632.2 364.7L632.6 378.8L633.0 358.9L633.4 387.7L633.8 333.9L634.2 466.5L634.6 398.6L635.0 387.7L635.4 412.7L635.8 371.2L636.2 358.9L636.6 353.8L637.0 387.7L637.4 344.8L637.8 387.7L638.2 378.8L638.6 364.7L639.0 349.1L639.4 387.7L639.8 412.7L640.2 398.6L640.6 371.2L641.0 378.8L641.4 378.8L641.8 378.8L642.2 378.8L642.6 378.8L643.0 387.7L643.4 358.9L643.8 378.8L644.2 349.1L644.6 353.8L645.0 412.7L645.4 358.9L645.8 412.7L646.2 378.8L646.6 378.8L647.0 371.2L647.4 371.2L647.8 364.7L648.2 412.7L648.6 364.7L649.0 378.8L649.4 353.8L649.8 387.7L650.2 358.9L650.6 432.6L651.0 412.7L651.4 353.8L651.8 371.2L652.2 387.7L652.6 398.6L653.0 378.8L653.4 378.8L653.8 371.2L654.2 358.9L654.6 364.7L655.0 466.5L655.4 412.7L655.8 353.8L656.2 349.1L656.6 378.8L657.0 364.7L657.4 371.2L657.8 364.7L658.2 364.7L658.6 378.8L659.0 371.2L659.4 371.2L659.8 398.6L660.2 398.6L660.6 378.8L661.0 378.8L661.4 358.9L661.8 398.6L662.2 398.6L662.6 353.8L663.0 378.8L663.4 371.2L663.8 398.6L664.2 432.6L664.6 371.2L665.0 387.7L665.4 378.8L665.8 412.7L666.2 364.7L666.6 371.2L667.0 398.6L667.4 398.6L667.8 371.2L668.2 378.8L668.6 432.6L669.0 387.7L669.4 358.9L669.8 412.7L670.2 387.7L670.6 398.6L671.0 378.8L671.4 398.6L671.8 358.9L672.2 412.7L672.6 412.7L673.0 466.5L673.4 358.9L673.8 387.7L674.2 398.6L674.6 364.7L675.0 364.7L675.4 378.8L675.8 398.6L676.2 387.7L676.6 364.7L677.0 364.7L677.4 371.2L677.8 358.9L678.2 432.6L678.6 398.6L679.0 378.8L679.4 387.7L679.8 398.6L680.2 378.8L680.6 378.8L681.0 412.7L681.4 432.6L681.8 466.5L682.2 364.7L682.6 387.7L683.0 371.2L683.4 398.6L683.8 398.6L684.2 353.8L684.6 378.8L685.0 371.2L685.4 340.9L685.8 398.6L686.2 398.6L686.6 387.7L687.0 398.6L687.4 387.7L687.8 387.7L688.2 358.9L688.6 398.6L689.0 387.7L689.4 371.2L689.8 398.6L690.2 412.7L690.6 344.8L691.0 387.7L691.4 398.6L691.8 387.7L692.2 398.6L692.6 432.6" stroke="#0000f0" stroke-width="2.9" fill="none" stroke-linejoin="round"/>
<path d="M121.0 490.0L121.4 490.0L121.8 490.0L122.2 490.0L122.6 490.0L123.0 490.0L123.4 490.0L123.8 490.0L124.2 490.0L124.6 490.0L125.0 490.0L125.4 490.0L125.8 273.0L126.2 223.1L126.6 214.2L127.0 195.9L127.4 196.7L127.8 192.2L128.2 183.6L128.6 166.4L129.0 128.9L129.4 47.9L129.8 14.1L130.2 13.8L130.6 19.8L131.0 24.6L131.4 30.5L131.8 32.6L132.2 34.8L132.6 38.1L133.0 39.5L133.4 41.6L133.8 44.9L134.2 47.2L134.6 48.1L135.0 51.3L135.4 52.0L135.8 54.5L136.2 56.8L136.6 58.0L137.0 58.2L137.4 62.0L137.8 63.1L138.2 65.1L138.6 65.4L139.0 66.6L139.4 68.8L139.8 69.7L140.2 71.6L140.6 73.3L141.0 74.9L141.4 74.8L141.8 79.4L142.2 79.0L142.6 77.4L143.0 81.0L143.4 80.8L143.8 83.4L144.2 84.6L144.6 84.8L145.0 86.1L145.4 86.5L145.8 86.8L146.2 88.5L146.6 91.9L147.0 91.9L147.4 91.1L147.8 94.1L148.2 93.8L148.6 96.6L149.0 96.1L149.4 99.2L149.8 97.1L150.2 99.7L150.6 100.8L151.0 100.5L151.4 101.6L151.8 101.3L152.2 106.8L152.6 106.1L153.0 105.6L153.4 105.6L153.8 108.6L154.2 109.8L154.6 111.4L155.0 110.8L155.4 110.7L155.8 111.6L156.2 112.1L156.6 113.1L157.0 114.8L157.4 115.7L157.8 116.3L158.2 114.6L158.6 121.0L159.0 119.3L159.4 119.0L159.8 119.6L160.2 119.6L160.6 120.3L161.0 123.7L161.4 121.4L161.8 122.0L162.2 124.1L162.6 126.9L163.0 123.4L163.4 128.3L163.8 126.2L164.2 129.3L164.6 126.9L165.0 129.7L165.4 129.6L165.8 131.9L166.2 127.4L166.6 131.1L167.0 132.7L167.4 131.1L167.8 134.2L168.2 137.0L168.6 135.4L169.0 136.7L169.4 137.2L169.8 136.8L170.2 136.7L170.6 137.7L171.0 140.5L171.4 137.1L171.8 138.3L172.2 140.2L172.6 141.0L173.0 140.0L173.4 143.9L173.8 141.7L174.2 142.7L174.6 144.0L175.0 144.9L175.4 147.1L175.8 145.9L176.2 144.6L176.6 146.3L177.0 147.6L177.4 148.2L177.8 146.8L178.2 147.9L178.6 149.6L179.0 151.1L179.4 151.9L179.8 153.5L180.2 151.9L180.6 152.8L181.0 152.0L181.4 153.2L181.8 155.7L182.2 154.3L182.6 155.0L183.0 153.7L183.4 153.7L183.8 158.1L184.2 156.2L184.6 153.4L185.0 160.5L185.4 156.0L185.8 158.5L186.2 159.1L186.6 158.9L187.0 161.4L187.4 162.0L187.8 160.8L188.2 161.2L188.6 162.4L189.0 159.6L189.4 162.4L189.8 163.8L190.2 164.9L190.6 169.1L191.0 163.0L191.4 170.1L191.8 168.9L192.2 166.4L192.6 166.9L193.0 167.7L193.4 172.0L193.8 166.2L194.2 171.7L194.6 171.7L195.0 166.9L195.4 169.2L195.8 169.9L196.2 176.7L196.6 168.2L197.0 176.9L197.4 175.4L197.8 170.6L198.2 174.0L198.6 169.9L199.0 176.5L199.4 174.9L199.8 179.0L200.2 175.5L200.6 174.7L201.0 177.5L201.4 177.5L201.8 178.5L202.2 181.4L202.6 176.9L203.0 179.2L203.4 180.1L203.8 182.4L204.2 183.3L204.6 179.0L205.0 179.8L205.4 180.2L205.8 184.5L206.2 176.7L206.6 183.7L207.0 181.9L207.4 184.0L207.8 184.2L208.2 186.9L208.6 183.1L209.0 185.4L209.4 187.7L209.8 184.5L210.2 189.5L210.6 187.4L211.0 185.3L211.4 185.8L211.8 187.9L212.2 189.5L212.6 185.3L213.0 187.7L213.4 186.2L213.8 191.8L214.2 190.1L214.6 191.5L215.0 194.4L215.4 192.7L215.8 196.1L216.2 195.2L216.6 192.0L217.0 194.4L217.4 192.2L217.8 190.8L218.2 196.3L218.6 189.0L219.0 196.9L219.4 197.1L219.8 198.7L220.2 193.6L220.6 195.4L221.0 199.2L221.4 199.4L221.8 196.9L222.2 198.5L222.6 199.6L223.0 198.3L223.4 202.6L223.8 197.1L224.2 198.1L224.6 197.3L225.0 194.2L225.4 200.6L225.8 200.6L226.2 202.8L226.6 208.0L227.0 203.3L227.4 200.9L227.8 204.7L228.2 202.2L228.6 197.7L229.0 196.9L229.4 206.8L229.8 207.8L230.2 207.6L230.6 201.5L231.0 213.0L231.4 212.2L231.8 210.1L232.2 205.8L232.6 207.6L233.0 210.1L233.4 204.2L233.8 211.7L234.2 206.3L234.6 208.6L235.0 209.8L235.4 208.6L235.8 208.6L236.2 217.1L236.6 208.0L237.0 211.4L237.4 214.2L237.8 215.9L238.2 213.6L238.6 209.6L239.0 213.9L239.4 215.9L239.8 213.3L240.2 215.6L240.6 210.9L241.0 213.3L241.4 204.0L241.8 214.2L242.2 213.9L242.6 215.9L243.0 214.4L243.4 210.1L243.8 220.5L244.2 218.0L244.6 219.2L245.0 215.6L245.4 219.5L245.8 217.7L246.2 223.5L246.6 220.8L247.0 212.8L247.4 216.5L247.8 221.8L248.2 224.5L248.6 219.2L249.0 219.9L249.4 228.9L249.8 229.3L250.2 217.4L250.6 213.3L251.0 224.9L251.4 227.8L251.8 221.5L252.2 224.5L252.6 224.2L253.0 224.5L253.4 230.9L253.8 222.8L254.2 222.1L254.6 229.7L255.0 228.9L255.4 232.9L255.8 226.7L256.2 227.0L256.6 228.9L257.0 231.7L257.4 224.5L257.8 229.7L258.2 229.7L258.6 236.8L259.0 221.8L259.4 230.1L259.8 231.3L260.2 228.5L260.6 233.7L261.0 226.3L261.4 233.3L261.8 234.6L262.2 230.5L262.6 228.9L263.0 229.7L263.4 230.5L263.8 232.5L264.2 223.5L264.6 233.7L265.0 234.2L265.4 245.6L265.8 232.5L266.2 237.2L266.6 234.6L267.0 240.5L267.4 234.2L267.8 236.3L268.2 235.9L268.6 236.3L269.0 239.6L269.4 236.3L269.8 236.3L270.2 235.5L270.6 236.8L271.0 241.0L271.4 245.1L271.8 236.8L272.2 237.7L272.6 239.1L273.0 237.7L273.4 255.7L273.8 242.0L274.2 239.6L274.6 239.1L275.0 243.0L275.4 237.7L275.8 241.0L276.2 244.6L276.6 240.5L277.0 244.6L277.4 240.0L277.8 242.0L278.2 263.6L278.6 240.0L279.0 235.5L279.4 246.2L279.8 245.6L280.2 244.6L280.6 249.0L281.0 253.2L281.4 246.2L281.8 244.6L282.2 243.5L282.6 257.8L283.0 247.8L283.4 243.0L283.8 245.6L284.2 245.6L284.6 245.1L285.0 230.9L285.4 238.6L285.8 245.6L286.2 249.5L286.6 253.2L287.0 244.6L287.4 247.3L287.8 247.8L288.2 251.9L288.6 246.7L289.0 256.4L289.4 254.4L289.8 249.0L290.2 259.2L290.6 247.8L291.0 250.1L291.4 258.5L291.8 251.3L292.2 255.1L292.6 251.9L293.0 248.4L293.4 251.3L293.8 253.2L294.2 254.4L294.6 259.2L295.0 259.9L295.4 253.2L295.8 256.4L296.2 254.4L296.6 251.3L297.0 249.0L297.4 255.7L297.8 261.3L298.2 253.2L298.6 252.5L299.0 257.8L299.4 265.2L299.8 256.4L300.2 253.2L300.6 254.4L301.0 265.2L301.4 258.5L301.8 259.9L302.2 259.9L302.6 255.1L303.0 260.6L303.4 261.3L303.8 263.6L304.2 262.9L304.6 253.2L305.0 255.7L305.4 253.2L305.8 259.9L306.2 254.4L306.6 268.5L307.0 263.6L307.4 271.2L307.8 260.6L308.2 268.5L308.6 269.4L309.0 251.3L309.4 270.3L309.8 271.2L310.2 281.2L310.6 253.8L311.0 274.0L311.4 276.9L311.8 259.9L312.2 266.0L312.6 267.7L313.0 262.1L313.4 276.9L313.8 266.0L314.2 270.3L314.6 274.9L315.0 267.7L315.4 272.1L315.8 265.2L316.2 265.2L316.6 256.4L317.0 275.9L317.4 272.1L317.8 272.1L318.2 269.4L318.6 259.2L319.0 266.0L319.4 258.5L319.8 272.1L320.2 266.8L320.6 267.7L321.0 269.4L321.4 271.2L321.8 270.3L322.2 262.9L322.6 273.0L323.0 272.1L323.4 270.3L323.8 278.0L324.2 269.4L324.6 285.9L325.0 275.9L325.4 283.5L325.8 266.8L326.2 263.6L326.6 281.2L327.0 276.9L327.4 285.9L327.8 270.3L328.2 282.3L328.6 280.1L329.0 267.7L329.4 275.9L329.8 287.1L330.2 267.7L330.6 279.0L331.0 273.0L331.4 283.5L331.8 259.9L332.2 273.0L332.6 283.5L333.0 279.0L333.4 280.1L333.8 275.9L334.2 284.7L334.6 272.1L335.0 284.7L335.4 270.3L335.8 280.1L336.2 285.9L336.6 279.0L337.0 280.1L337.4 282.3L337.8 274.0L338.2 279.0L338.6 269.4L339.0 292.4L339.4 282.3L339.8 289.7L340.2 300.0L340.6 303.3L341.0 293.8L341.4 274.9L341.8 289.7L342.2 287.1L342.6 284.7L343.0 280.1L343.4 283.5L343.8 280.1L344.2 272.1L344.6 287.1L345.0 276.9L345.4 285.9L345.8 300.0L346.2 274.9L346.6 282.3L347.0 285.9L347.4 305.1L347.8 285.9L348.2 291.0L348.6 288.4L349.0 296.8L349.4 288.4L349.8 281.2L350.2 298.3L350.6 288.4L351.0 289.7L351.4 279.0L351.8 292.4L352.2 289.7L352.6 296.8L353.0 291.0L353.4 296.8L353.8 298.3L354.2 308.9L354.6 280.1L355.0 293.8L355.4 275.9L355.8 282.3L356.2 293.8L356.6 298.3L357.0 298.3L357.4 291.0L357.8 303.3L358.2 298.3L358.6 285.9L359.0 291.0L359.4 289.7L359.8 303.3L360.2 295.3L360.6 305.1L361.0 301.6L361.4 276.9L361.8 313.0L362.2 300.0L362.6 307.0L363.0 298.3L363.4 300.0L363.8 289.7L364.2 308.9L364.6 310.9L365.0 296.8L365.4 305.1L365.8 300.0L366.2 307.0L366.6 292.4L367.0 287.1L367.4 295.3L367.8 292.4L368.2 296.8L368.6 295.3L369.0 310.9L369.4 292.4L369.8 296.8L370.2 303.3L370.6 307.0L371.0 303.3L371.4 282.3L371.8 292.4L372.2 287.1L372.6 310.9L373.0 285.9L373.4 325.0L373.8 298.3L374.2 315.1L374.6 303.3L375.0 305.1L375.4 322.3L375.8 292.4L376.2 296.8L376.6 317.4L377.0 300.0L377.4 305.1L377.8 293.8L378.2 307.0L378.6 305.1L379.0 303.3L379.4 327.8L379.8 322.3L380.2 310.9L380.6 310.9L381.0 293.8L381.4 313.0L381.8 307.0L382.2 298.3L382.6 295.3L383.0 319.8L383.4 330.7L383.8 291.0L384.2 298.3L384.6 301.6L385.0 305.1L385.4 315.1L385.8 305.1L386.2 305.1L386.6 322.3L387.0 317.4L387.4 295.3L387.8 310.9L388.2 308.9L388.6 319.8L389.0 333.9L389.4 305.1L389.8 317.4L390.2 301.6L390.6 322.3L391.0 308.9L391.4 325.0L391.8 313.0L392.2 325.0L392.6 325.0L393.0 327.8L393.4 322.3L393.8 344.8L394.2 307.0L394.6 310.9L395.0 313.0L395.4 307.0L395.8 333.9L396.2 315.1L396.6 307.0L397.0 313.0L397.4 317.4L397.8 330.7L398.2 319.8L398.6 303.3L399.0 319.8L399.4 322.3L399.8 322.3L400.2 322.3L400.6 319.8L401.0 327.8L401.4 322.3L401.8 317.4L402.2 313.0L402.6 308.9L403.0 319.8L403.4 310.9L403.8 327.8L404.2 310.9L404.6 325.0L405.0 310.9L405.4 315.1L405.8 315.1L406.2 322.3L406.6 310.9L407.0 353.8L407.4 319.8L407.8 315.1L408.2 337.3L408.6 330.7L409.0 313.0L409.4 319.8L409.8 322.3L410.2 315.1L410.6 305.1L411.0 364.7L411.4 330.7L411.8 308.9L412.2 317.4L412.6 333.9L413.0 337.3L413.4 308.9L413.8 307.0L414.2 322.3L414.6 330.7L415.0 337.3L415.4 340.9L415.8 315.1L416.2 325.0L416.6 340.9L417.0 333.9L417.4 317.4L417.8 319.8L418.2 344.8L418.6 333.9L419.0 340.9L419.4 319.8L419.8 327.8L420.2 340.9L420.6 337.3L421.0 327.8L421.4 327.8L421.8 333.9L422.2 310.9L422.6 337.3L423.0 337.3L423.4 337.3L423.8 337.3L424.2 330.7L424.6 340.9L425.0 325.0L425.4 319.8L425.8 317.4L426.2 337.3L426.6 340.9L427.0 317.4L427.4 313.0L427.8 358.9L428.2 310.9L428.6 344.8L429.0 325.0L429.4 327.8L429.8 330.7L430.2 322.3L430.6 325.0L431.0 310.9L431.4 337.3L431.8 330.7L432.2 330.7L432.6 317.4L433.0 358.9L433.4 317.4L433.8 330.7L434.2 340.9L434.6 333.9L435.0 319.8L435.4 337.3L435.8 337.3L436.2 325.0L436.6 313.0L437.0 325.0L437.4 319.8L437.8 319.8L438.2 344.8L438.6 330.7L439.0 330.7L439.4 317.4L439.8 333.9L440.2 337.3L440.6 325.0L441.0 305.1L441.4 353.8L441.8 344.8L442.2 333.9L442.6 310.9L443.0 353.8L443.4 340.9L443.8 313.0L444.2 325.0L444.6 333.9L445.0 327.8L445.4 327.8L445.8 340.9L446.2 353.8L446.6 358.9L447.0 330.7L447.4 333.9L447.8 344.8L448.2 337.3L448.6 358.9L449.0 330.7L449.4 327.8L449.8 333.9L450.2 330.7L450.6 322.3L451.0 330.7L451.4 315.1L451.8 349.1L452.2 364.7L452.6 325.0L453.0 325.0L453.4 330.7L453.8 327.8L454.2 344.8L454.6 337.3L455.0 353.8L455.4 333.9L455.8 349.1L456.2 330.7L456.6 349.1L457.0 330.7L457.4 358.9L457.8 327.8L458.2 333.9L458.6 330.7L459.0 337.3L459.4 340.9L459.8 330.7L460.2 333.9L460.6 344.8L461.0 337.3L461.4 333.9L461.8 333.9L462.2 349.1L462.6 337.3L463.0 349.1L463.4 358.9L463.8 325.0L464.2 371.2L464.6 337.3L465.0 337.3L465.4 337.3L465.8 333.9L466.2 317.4L466.6 364.7L467.0 344.8L467.4 333.9L467.8 349.1L468.2 349.1L468.6 358.9L469.0 358.9L469.4 364.7L469.8 344.8L470.2 353.8L470.6 319.8L471.0 353.8L471.4 325.0L471.8 378.8L472.2 340.9L472.6 358.9L473.0 340.9L473.4 358.9L473.8 353.8L474.2 358.9L474.6 349.1L475.0 330.7L475.4 353.8L475.8 349.1L476.2 349.1L476.6 349.1L477.0 340.9L477.4 358.9L477.8 364.7L478.2 340.9L478.6 340.9L479.0 353.8L479.4 317.4L479.8 340.9L480.2 317.4L480.6 327.8L481.0 387.7L481.4 333.9L481.8 327.8L482.2 310.9L482.6 371.2L483.0 378.8L483.4 340.9L483.8 340.9L484.2 340.9L484.6 337.3L485.0 349.1L485.4 337.3L485.8 333.9L486.2 344.8L486.6 364.7L487.0 349.1L487.4 358.9L487.8 325.0L488.2 412.7L488.6 340.9L489.0 344.8L489.4 371.2L489.8 344.8L490.2 330.7L490.6 344.8L491.0 349.1L491.4 349.1L491.8 358.9L492.2 344.8L492.6 358.9L493.0 344.8L493.4 353.8L493.8 371.2L494.2 344.8L494.6 364.7L495.0 364.7L495.4 349.1L495.8 349.1L496.2 387.7L496.6 358.9L497.0 340.9L497.4 344.8L497.8 349.1L498.2 378.8L498.6 344.8L499.0 344.8L499.4 358.9L499.8 344.8L500.2 371.2L500.6 340.9L501.0 364.7L501.4 330.7L501.8 327.8L502.2 353.8L502.6 364.7L503.0 330.7L503.4 353.8L503.8 340.9L504.2 358.9L504.6 327.8L505.0 330.7L505.4 344.8L505.8 337.3L506.2 378.8L506.6 319.8L507.0 349.1L507.4 364.7L507.8 340.9L508.2 337.3L508.6 344.8L509.0 364.7L509.4 378.8L509.8 353.8L510.2 344.8L510.6 337.3L511.0 340.9L511.4 340.9L511.8 333.9L512.2 353.8L512.6 340.9L513.0 387.7L513.4 344.8L513.8 364.7L514.2 340.9L514.6 364.7L515.0 371.2L515.4 349.1L515.8 371.2L516.2 371.2L516.6 371.2L517.0 327.8L517.4 398.6L517.8 387.7L518.2 353.8L518.6 378.8L519.0 358.9L519.4 344.8L519.8 340.9L520.2 349.1L520.6 364.7L521.0 364.7L521.4 371.2L521.8 337.3L522.2 333.9L522.6 340.9L523.0 349.1L523.4 349.1L523.8 398.6L524.2 349.1L524.6 358.9L525.0 371.2L525.4 325.0L525.8 340.9L526.2 349.1L526.6 387.7L527.0 349.1L527.4 340.9L527.8 333.9L528.2 353.8L528.6 398.6L529.0 349.1L529.4 353.8L529.8 358.9L530.2 349.1L530.6 344.8L531.0 330.7L531.4 353.8L531.8 358.9L532.2 337.3L532.6 349.1L533.0 364.7L533.4 353.8L533.8 353.8L534.2 358.9L534.6 358.9L535.0 387.7L535.4 387.7L535.8 387.7L536.2 349.1L536.6 358.9L537.0 353.8L537.4 353.8L537.8 378.8L538.2 378.8L538.6 340.9L539.0 398.6L539.4 358.9L539.8 349.1L540.2 340.9L540.6 353.8L541.0 340.9L541.4 344.8L541.8 358.9L542.2 387.7L542.6 371.2L543.0 371.2L543.4 353.8L543.8 364.7L544.2 353.8L544.6 344.8L545.0 358.9L545.4 358.9L545.8 349.1L546.2 371.2L546.6 353.8L547.0 378.8L547.4 387.7L547.8 358.9L548.2 398.6L548.6 358.9L549.0 344.8L549.4 353.8L549.8 358.9L550.2 378.8L550.6 340.9L551.0 344.8L551.4 344.8L551.8 358.9L552.2 398.6L552.6 412.7L553.0 378.8L553.4 387.7L553.8 398.6L554.2 371.2L554.6 364.7L555.0 364.7L555.4 378.8L555.8 358.9L556.2 378.8L556.6 387.7L557.0 344.8L557.4 353.8L557.8 358.9L558.2 378.8L558.6 387.7L559.0 387.7L559.4 387.7L559.8 378.8L560.2 371.2L560.6 371.2L561.0 364.7L561.4 358.9L561.8 353.8L562.2 337.3L562.6 378.8L563.0 371.2L563.4 337.3L563.8 340.9L564.2 364.7L564.6 353.8L565.0 340.9L565.4 371.2L565.8 333.9L566.2 371.2L566.6 337.3L567.0 358.9L567.4 371.2L567.8 358.9L568.2 353.8L568.6 378.8L569.0 358.9L569.4 349.1L569.8 378.8L570.2 378.8L570.6 340.9L571.0 349.1L571.4 378.8L571.8 387.7L572.2 364.7L572.6 378.8L573.0 387.7L573.4 353.8L573.8 353.8L574.2 340.9L574.6 378.8L575.0 371.2L575.4 378.8L575.8 353.8L576.2 364.7L576.6 371.2L577.0 378.8L577.4 398.6L577.8 353.8L578.2 358.9L578.6 398.6L579.0 364.7L579.4 364.7L579.8 340.9L580.2 371.2L580.6 378.8L581.0 358.9L581.4 353.8L581.8 378.8L582.2 358.9L582.6 364.7L583.0 364.7L583.4 398.6L583.8 371.2L584.2 371.2L584.6 398.6L585.0 387.7L585.4 364.7L585.8 344.8L586.2 349.1L586.6 387.7L587.0 412.7L587.4 398.6L587.8 358.9L588.2 378.8L588.6 378.8L589.0 412.7L589.4 364.7L589.8 371.2L590.2 371.2L590.6 432.6L591.0 353.8L591.4 371.2L591.8 378.8L592.2 378.8L592.6 364.7L593.0 371.2L593.4 387.7L593.8 398.6L594.2 398.6L594.6 344.8L595.0 378.8L595.4 432.6L595.8 371.2L596.2 371.2L596.6 364.7L597.0 353.8L597.4 364.7L597.8 387.7L598.2 387.7L598.6 364.7L599.0 358.9L599.4 364.7L599.8 387.7L600.2 371.2L600.6 364.7L601.0 364.7L601.4 371.2L601.8 353.8L602.2 412.7L602.6 349.1L603.0 387.7L603.4 371.2L603.8 398.6L604.2 387.7L604.6 387.7L605.0 371.2L605.4 353.8L605.8 378.8L606.2 344.8L606.6 398.6L607.0 412.7L607.4 358.9L607.8 432.6L608.2 412.7L608.6 371.2L609.0 364.7L609.4 432.6L609.8 387.7L610.2 353.8L610.6 364.7L611.0 364.7L611.4 364.7L611.8 353.8L612.2 387.7L612.6 412.7L613.0 398.6L613.4 344.8L613.8 358.9L614.2 364.7L614.6 349.1L615.0 378.8L615.4 371.2L615.8 387.7L616.2 398.6L616.6 398.6L617.0 371.2L617.4 364.7L617.8 387.7L618.2 358.9L618.6 371.2L619.0 349.1L619.4 378.8L619.8 364.7L620.2 349.1L620.6 358.9L621.0 387.7L621.4 412.7L621.8 378.8L622.2 387.7L622.6 378.8L623.0 412.7L623.4 432.6L623.8 398.6L624.2 378.8L624.6 432.6L625.0 387.7L625.4 358.9L625.8 378.8L626.2 371.2L626.6 364.7L627.0 387.7L627.4 378.8L627.8 371.2L628.2 364.7L628.6 371.2L629.0 358.9L629.4 387.7L629.8 387.7L630.2 378.8L630.6 387.7L631.0 412.7L631.4 432.6L631.8 398.6L632.2 398.6L632.6 387.7L633.0 412.7L633.4 378.8L633.8 398.6L634.2 412.7L634.6 387.7L635.0 378.8L635.4 432.6L635.8 364.7L636.2 371.2L636.6 398.6L637.0 412.7L637.4 466.5L637.8 412.7L638.2 378.8L638.6 349.1L639.0 387.7L639.4 387.7L639.8 364.7L640.2 412.7L640.6 364.7L641.0 412.7L641.4 358.9L641.8 432.6L642.2 378.8L642.6 432.6L643.0 378.8L643.4 387.7L643.8 387.7L644.2 412.7L644.6 412.7L645.0 387.7L645.4 378.8L645.8 412.7L646.2 378.8L646.6 378.8L647.0 412.7L647.4 432.6L647.8 349.1L648.2 398.6L648.6 387.7L649.0 387.7L649.4 387.7L649.8 432.6L650.2 398.6L650.6 432.6L651.0 432.6L651.4 398.6L651.8 412.7L652.2 378.8L652.6 398.6L653.0 358.9L653.4 371.2L653.8 387.7L654.2 432.6L654.6 466.5L655.0 387.7L655.4 378.8L655.8 378.8L656.2 432.6L656.6 387.7L657.0 371.2L657.4 378.8L657.8 387.7L658.2 387.7L658.6 387.7L659.0 371.2L659.4 412.7L659.8 378.8L660.2 490.0L660.6 378.8L661.0 387.7L661.4 398.6L661.8 387.7L662.2 364.7L662.6 364.7L663.0 371.2L663.4 412.7L663.8 398.6L664.2 387.7L664.6 432.6L665.0 387.7L665.4 398.6L665.8 432.6L666.2 378.8L666.6 398.6L667.0 398.6L667.4 432.6L667.8 387.7L668.2 412.7L668.6 412.7L669.0 387.7L669.4 398.6L669.8 398.6L670.2 371.2L670.6 387.7L671.0 387.7L671.4 387.7L671.8 398.6L672.2 466.5L672.6 378.8L673.0 371.2L673.4 358.9L673.8 378.8L674.2 378.8L674.6 412.7L675.0 398.6L675.4 398.6L675.8 398.6L676.2 412.7L676.6 412.7L677.0 466.5L677.4 432.6L677.8 364.7L678.2 412.7L678.6 398.6L679.0 387.7L679.4 398.6L679.8 432.6L680.2 398.6L680.6 387.7L681.0 364.7L681.4 378.8L681.8 387.7L682.2 412.7L682.6 466.5L683.0 398.6L683.4 466.5L683.8 387.7L684.2 353.8L684.6 412.7L685.0 412.7L685.4 371.2L685.8 364.7L686.2 387.7L686.6 412.7L687.0 412.7L687.4 398.6L687.8 378.8L688.2 378.8L688.6 387.7L689.0 371.2L689.4 358.9L689.8 432.6L690.2 371.2L690.6 398.6L691.0 387.7L691.4 412.7L691.8 412.7L692.2 412.7L692.6 466.5" stroke="#ff0000" stroke-width="2.9" fill="none" stroke-linejoin="round"/>
<path d="M121.0 490.0L121.2 477.4L121.5 477.4L121.8 477.4L122.0 477.4L122.2 490.0L122.5 490.0L122.8 423.6L123.0 477.4L123.2 490.0L123.5 477.4L123.8 477.4L124.0 477.4L124.2 423.6L124.5 423.6L124.8 443.5L125.0 490.0L125.2 409.5L125.5 443.5L125.8 423.6L126.0 477.4L126.2 409.5L126.5 477.4L126.8 398.6L127.0 398.6L127.2 364.7L127.5 409.5L127.8 477.4L128.0 281.2L128.2 166.2L128.5 125.0L128.8 99.7L129.0 76.0L129.2 55.6L129.5 39.6L129.8 29.9L130.0 27.8L130.2 26.8L130.5 27.1L130.8 32.7L131.0 43.3L131.2 52.1L131.5 66.6L131.8 79.8L132.0 96.5L132.2 108.6L132.5 122.8L132.8 135.7L133.0 148.2L133.2 152.9L133.5 160.7L133.8 160.0L134.0 166.9L134.2 167.5L134.5 172.0L134.8 179.4L135.0 187.2L135.2 194.4L135.5 206.7L135.8 221.8L136.0 229.2L136.2 236.2L136.5 253.4L136.8 264.7L137.0 263.5L137.2 268.0L137.5 274.6L137.8 259.3L138.0 268.0L138.2 246.4L138.5 252.9L138.8 235.8L139.0 227.4L139.2 221.0L139.5 215.4L139.8 209.9L140.0 202.7L140.2 209.7L140.5 210.3L140.8 206.9L141.0 207.1L141.2 215.8L141.5 209.5L141.8 222.9L142.0 221.0L142.2 250.0L142.5 249.5L142.8 260.5L143.0 270.8L143.2 292.1L143.5 306.2L143.8 309.3L144.0 309.3L144.2 328.3L144.5 333.2L144.8 330.7L145.0 348.2L145.2 351.8L145.5 344.8L145.8 338.7L146.0 338.7L146.2 351.8L146.5 364.7L146.8 335.9L147.0 360.0L147.2 375.6L147.5 382.1L147.8 375.6L148.0 335.9L148.2 335.9L148.5 364.7L148.8 364.7L149.0 375.6L149.2 375.6L149.5 369.8L149.8 344.8L150.0 351.8L150.2 375.6L150.5 364.7L150.8 360.0L151.0 443.5L151.2 389.7L151.5 389.7L151.8 369.8L152.0 360.0L152.2 364.7L152.5 382.1L152.8 369.8L153.0 360.0L153.2 375.6L153.5 398.6L153.8 375.6L154.0 443.5L154.2 423.6L154.5 369.8L154.8 382.1L155.0 398.6L155.2 409.5L155.5 443.5L155.8 398.6L156.0 375.6L156.2 389.7L156.5 423.6L156.8 409.5L157.0 443.5L157.2 389.7L157.5 369.8L157.8 423.6L158.0 477.4L158.2 398.6L158.5 443.5L158.8 364.7L159.0 409.5L159.2 398.6L159.5 409.5L159.8 389.7L160.0 423.6L160.2 375.6L160.5 423.6L160.8 423.6L161.0 423.6L161.2 443.5L161.5 409.5L161.8 398.6L162.0 423.6L162.2 423.6L162.5 423.6L162.8 375.6L163.0 398.6L163.2 477.4L163.5 375.6L163.8 409.5L164.0 409.5L164.2 409.5L164.5 409.5L164.8 398.6L165.0 423.6L165.2 423.6L165.5 409.5L165.8 443.5L166.0 375.6L166.2 477.4L166.5 477.4L166.8 423.6L167.0 443.5L167.2 398.6L167.5 409.5L167.8 423.6L168.0 443.5L168.2 443.5L168.5 443.5L168.8 389.7L169.0 477.4L169.2 423.6L169.5 389.7L169.8 398.6L170.0 490.0L170.2 477.4L170.5 409.5L170.8 490.0L171.0 375.6L171.2 443.5L171.5 443.5L171.8 443.5L172.0 398.6L172.2 409.5L172.5 423.6L172.8 423.6L173.0 423.6L173.2 423.6L173.5 443.5L173.8 409.5L174.0 443.5L174.2 423.6L174.5 443.5L174.8 443.5L175.0 490.0L175.2 443.5L175.5 443.5L175.8 423.6L176.0 443.5L176.2 477.4L176.5 490.0L176.8 423.6L177.0 443.5L177.2 490.0L177.5 490.0L177.8 443.5L178.0 409.5L178.2 423.6L178.5 477.4L178.8 423.6L179.0 477.4L179.2 477.4L179.5 490.0L179.8 477.4L180.0 423.6L180.2 423.6L180.5 477.4L180.8 409.5L181.0 409.5L181.2 443.5L181.5 423.6L181.8 443.5L182.0 477.4L182.2 443.5L182.5 477.4L182.8 490.0L183.0 490.0L183.2 443.5L183.5 443.5L183.8 398.6L184.0 477.4L184.2 409.5L184.5 423.6L184.8 409.5L185.0 477.4L185.2 477.4L185.5 477.4L185.8 423.6L186.0 477.4L186.2 443.5L186.5 409.5L186.8 443.5L187.0 423.6L187.2 477.4L187.5 477.4L187.8 423.6L188.0 443.5L188.2 490.0L188.5 490.0L188.8 423.6L189.0 477.4L189.2 477.4L189.5 490.0L189.8 409.5L190.0 443.5L190.2 409.5L190.5 443.5L190.8 409.5L191.0 409.5L191.2 409.5L191.5 443.5L191.8 409.5L192.0 443.5L192.2 398.6L192.5 477.4L192.8 477.4L193.0 490.0L193.2 443.5L193.5 423.6L193.8 409.5L194.0 423.6L194.2 477.4L194.5 409.5L194.8 423.6L195.0 490.0L195.2 443.5L195.5 477.4L195.8 477.4L196.0 477.4L196.2 389.7L196.5 409.5L196.8 423.6L197.0 443.5L197.2 423.6L197.5 490.0L197.8 423.6L198.0 409.5L198.2 423.6L198.5 443.5L198.8 490.0L199.0 409.5L199.2 477.4L199.5 409.5L199.8 423.6L200.0 477.4L200.2 389.7L200.5 477.4L200.8 443.5L201.0 409.5L201.2 477.4L201.5 443.5L201.8 423.6L202.0 477.4L202.2 443.5L202.5 443.5L202.8 490.0L203.0 443.5L203.2 443.5L203.5 423.6L203.8 423.6L204.0 389.7L204.2 423.6L204.5 409.5L204.8 443.5L205.0 477.4L205.2 409.5L205.5 389.7L205.8 409.5L206.0 423.6L206.2 382.1L206.5 477.4L206.8 443.5L207.0 490.0L207.2 423.6L207.5 443.5L207.8 443.5L208.0 443.5L208.2 423.6L208.5 477.4L208.8 443.5L209.0 423.6L209.2 443.5L209.5 490.0L209.8 423.6L210.0 490.0L210.2 443.5L210.5 477.4L210.8 423.6L211.0 423.6L211.2 477.4L211.5 398.6L211.8 423.6L212.0 443.5L212.2 477.4L212.5 389.7L212.8 443.5L213.0 423.6L213.2 477.4L213.5 443.5L213.8 477.4L214.0 477.4L214.2 423.6L214.5 477.4L214.8 490.0L215.0 409.5L215.2 423.6L215.5 389.7L215.8 443.5L216.0 443.5L216.2 423.6L216.5 409.5L216.8 398.6L217.0 443.5L217.2 409.5L217.5 409.5L217.8 409.5L218.0 443.5L218.2 477.4L218.5 477.4L218.8 409.5L219.0 409.5L219.2 477.4L219.5 409.5L219.8 490.0L220.0 409.5L220.2 477.4L220.5 389.7L220.8 490.0L221.0 490.0L221.2 477.4L221.5 490.0L221.8 443.5L222.0 477.4L222.2 398.6L222.5 423.6L222.8 490.0L223.0 369.8L223.2 409.5L223.5 490.0L223.8 398.6L224.0 409.5L224.2 443.5L224.5 423.6L224.8 477.4L225.0 423.6L225.2 490.0L225.5 477.4L225.8 443.5L226.0 443.5L226.2 423.6L226.5 443.5L226.8 423.6L227.0 443.5L227.2 443.5L227.5 477.4L227.8 490.0L228.0 443.5L228.2 477.4L228.5 477.4L228.8 423.6L229.0 398.6L229.2 443.5L229.5 490.0L229.8 443.5L230.0 443.5L230.2 443.5L230.5 409.5L230.8 398.6L231.0 490.0L231.2 423.6L231.5 477.4L231.8 443.5L232.0 409.5L232.2 423.6L232.5 423.6L232.8 423.6L233.0 477.4L233.2 477.4L233.5 490.0L233.8 423.6L234.0 409.5L234.2 443.5L234.5 423.6L234.8 423.6L235.0 409.5L235.2 398.6L235.5 443.5L235.8 477.4L236.0 423.6L236.2 409.5L236.5 443.5L236.8 477.4L237.0 443.5L237.2 443.5L237.5 423.6L237.8 443.5L238.0 490.0L238.2 389.7L238.5 477.4L238.8 443.5L239.0 443.5L239.2 423.6L239.5 409.5L239.8 443.5L240.0 443.5L240.2 409.5L240.5 423.6L240.8 398.6L241.0 443.5L241.2 423.6L241.5 398.6L241.8 423.6L242.0 490.0L242.2 477.4L242.5 477.4L242.8 389.7L243.0 477.4L243.2 389.7L243.5 490.0L243.8 477.4L244.0 477.4L244.2 477.4L244.5 443.5L244.8 398.6L245.0 398.6L245.2 409.5L245.5 398.6L245.8 443.5L246.0 477.4L246.2 477.4L246.5 477.4L246.8 490.0L247.0 423.6L247.2 409.5L247.5 490.0L247.8 443.5L248.0 490.0L248.2 477.4L248.5 477.4L248.8 443.5L249.0 398.6L249.2 423.6L249.5 477.4L249.8 389.7L250.0 477.4L250.2 477.4L250.5 423.6L250.8 490.0L251.0 477.4L251.2 398.6L251.5 409.5L251.8 490.0L252.0 477.4L252.2 477.4L252.5 423.6L252.8 443.5L253.0 398.6L253.2 443.5L253.5 409.5L253.8 490.0L254.0 382.1L254.2 477.4L254.5 423.6L254.8 409.5L255.0 477.4L255.2 423.6L255.5 443.5L255.8 423.6L256.0 443.5L256.2 409.5L256.5 409.5L256.8 477.4L257.0 423.6L257.2 382.1L257.5 409.5L257.8 443.5L258.0 490.0L258.2 477.4L258.5 443.5L258.8 443.5L259.0 490.0L259.2 423.6L259.5 443.5L259.8 477.4L260.0 423.6L260.2 443.5L260.5 423.6L260.8 409.5L261.0 477.4L261.2 398.6L261.5 423.6L261.8 423.6L262.0 443.5L262.2 477.4L262.5 443.5L262.8 443.5L263.0 423.6L263.2 490.0L263.5 423.6L263.8 409.5L264.0 477.4L264.2 409.5L264.5 409.5L264.8 443.5L265.0 477.4L265.2 443.5L265.5 443.5L265.8 443.5L266.0 443.5L266.2 477.4L266.5 423.6L266.8 423.6L267.0 423.6L267.2 443.5L267.5 443.5L267.8 490.0L268.0 490.0L268.2 490.0L268.5 443.5L268.8 409.5L269.0 490.0L269.2 409.5L269.5 398.6L269.8 443.5L270.0 382.1L270.2 443.5L270.5 409.5L270.8 423.6L271.0 409.5L271.2 477.4L271.5 443.5L271.8 443.5L272.0 409.5L272.2 490.0L272.5 490.0L272.8 423.6L273.0 423.6L273.2 389.7L273.5 477.4L273.8 443.5L274.0 398.6L274.2 443.5L274.5 423.6L274.8 490.0L275.0 490.0L275.2 409.5L275.5 423.6L275.8 423.6L276.0 423.6L276.2 477.4L276.5 423.6L276.8 398.6L277.0 423.6L277.2 443.5L277.5 409.5L277.8 490.0L278.0 423.6L278.2 490.0L278.5 477.4L278.8 409.5L279.0 423.6L279.2 398.6L279.5 477.4L279.8 477.4L280.0 423.6L280.2 477.4L280.5 443.5L280.8 443.5L281.0 490.0L281.2 398.6L281.5 490.0L281.8 423.6L282.0 398.6L282.2 477.4L282.5 477.4L282.8 409.5L283.0 423.6L283.2 423.6L283.5 443.5L283.8 409.5L284.0 443.5L284.2 409.5L284.5 477.4L284.8 398.6L285.0 409.5L285.2 443.5L285.5 423.6L285.8 477.4L286.0 443.5L286.2 477.4L286.5 490.0L286.8 409.5L287.0 490.0L287.2 409.5L287.5 490.0L287.8 490.0L288.0 443.5L288.2 423.6L288.5 477.4L288.8 409.5L289.0 423.6L289.2 389.7L289.5 389.7L289.8 490.0L290.0 423.6L290.2 477.4L290.5 443.5L290.8 398.6L291.0 398.6L291.2 423.6L291.5 423.6L291.8 409.5L292.0 423.6L292.2 423.6L292.5 443.5L292.8 443.5L293.0 477.4L293.2 443.5L293.5 409.5L293.8 443.5L294.0 423.6L294.2 443.5L294.5 409.5L294.8 423.6L295.0 443.5L295.2 477.4L295.5 423.6L295.8 423.6L296.0 443.5L296.2 409.5L296.5 443.5L296.8 443.5L297.0 443.5L297.2 443.5L297.5 443.5L297.8 409.5L298.0 443.5L298.2 443.5L298.5 423.6L298.8 477.4L299.0 443.5L299.2 423.6L299.5 490.0L299.8 490.0L300.0 443.5L300.2 443.5L300.5 477.4L300.8 443.5L301.0 423.6L301.2 443.5L301.5 423.6L301.8 490.0L302.0 477.4L302.2 443.5L302.5 423.6L302.8 490.0L303.0 443.5L303.2 423.6L303.5 490.0L303.8 443.5L304.0 398.6L304.2 443.5L304.5 398.6L304.8 423.6L305.0 409.5L305.2 423.6L305.5 477.4L305.8 423.6L306.0 443.5L306.2 477.4L306.5 389.7L306.8 443.5L307.0 477.4L307.2 443.5L307.5 477.4L307.8 477.4L308.0 490.0L308.2 423.6L308.5 409.5L308.8 477.4L309.0 423.6L309.2 423.6L309.5 398.6L309.8 409.5L310.0 423.6L310.2 398.6L310.5 398.6L310.8 443.5L311.0 443.5L311.2 423.6L311.5 443.5L311.8 409.5L312.0 409.5L312.2 443.5L312.5 477.4L312.8 398.6L313.0 423.6L313.2 443.5L313.5 398.6L313.8 477.4L314.0 423.6L314.2 423.6L314.5 490.0L314.8 477.4L315.0 490.0L315.2 398.6L315.5 477.4L315.8 443.5L316.0 409.5L316.2 423.6L316.5 477.4L316.8 443.5L317.0 477.4L317.2 409.5L317.5 490.0L317.8 490.0L318.0 490.0L318.2 409.5L318.5 443.5L318.8 398.6L319.0 443.5L319.2 398.6L319.5 409.5L319.8 443.5L320.0 477.4L320.2 423.6L320.5 443.5L320.8 477.4L321.0 423.6L321.2 409.5L321.5 443.5L321.8 398.6L322.0 443.5L322.2 477.4L322.5 477.4L322.8 409.5L323.0 423.6L323.2 398.6L323.5 423.6L323.8 477.4L324.0 443.5L324.2 389.7L324.5 423.6L324.8 443.5L325.0 423.6L325.2 443.5L325.5 490.0L325.8 423.6L326.0 443.5L326.2 389.7L326.5 477.4L326.8 423.6L327.0 398.6L327.2 477.4L327.5 409.5L327.8 443.5L328.0 443.5L328.2 477.4L328.5 443.5L328.8 477.4L329.0 443.5L329.2 423.6L329.5 477.4L329.8 490.0L330.0 443.5L330.2 443.5L330.5 398.6L330.8 443.5L331.0 423.6L331.2 423.6L331.5 423.6L331.8 477.4L332.0 423.6L332.2 443.5L332.5 490.0L332.8 443.5L333.0 443.5L333.2 477.4L333.5 409.5L333.8 423.6L334.0 423.6L334.2 423.6L334.5 477.4L334.8 443.5L335.0 490.0L335.2 477.4L335.5 490.0L335.8 490.0L336.0 398.6L336.2 490.0L336.5 477.4L336.8 423.6L337.0 477.4L337.2 423.6L337.5 443.5L337.8 477.4L338.0 443.5L338.2 443.5L338.5 443.5L338.8 443.5L339.0 443.5L339.2 423.6L339.5 423.6L339.8 443.5L340.0 443.5L340.2 490.0L340.5 423.6L340.8 409.5L341.0 477.4L341.2 490.0L341.5 409.5L341.8 409.5L342.0 477.4L342.2 443.5L342.5 443.5L342.8 443.5L343.0 443.5L343.2 398.6L343.5 409.5L343.8 477.4L344.0 477.4L344.2 443.5L344.5 443.5L344.8 477.4L345.0 477.4L345.2 423.6L345.5 423.6L345.8 423.6L346.0 477.4L346.2 490.0L346.5 490.0L346.8 443.5L347.0 423.6L347.2 398.6L347.5 443.5L347.8 490.0L348.0 490.0L348.2 423.6L348.5 443.5L348.8 443.5L349.0 382.1L349.2 423.6L349.5 477.4L349.8 443.5L350.0 423.6L350.2 423.6L350.5 490.0L350.8 477.4L351.0 443.5L351.2 490.0L351.5 423.6L351.8 443.5L352.0 443.5L352.2 477.4L352.5 477.4L352.8 423.6L353.0 398.6L353.2 423.6L353.5 477.4L353.8 398.6L354.0 423.6L354.2 443.5L354.5 443.5L354.8 398.6L355.0 477.4L355.2 423.6L355.5 490.0L355.8 443.5L356.0 423.6L356.2 423.6L356.5 423.6L356.8 477.4L357.0 423.6L357.2 409.5L357.5 398.6L357.8 443.5L358.0 443.5L358.2 490.0L358.5 477.4L358.8 477.4L359.0 477.4L359.2 490.0L359.5 423.6L359.8 490.0L360.0 443.5L360.2 477.4L360.5 443.5L360.8 443.5L361.0 443.5L361.2 398.6L361.5 443.5L361.8 409.5L362.0 443.5L362.2 423.6L362.5 423.6L362.8 409.5L363.0 443.5L363.2 443.5L363.5 490.0L363.8 423.6L364.0 443.5L364.2 443.5L364.5 443.5L364.8 443.5L365.0 443.5L365.2 423.6L365.5 443.5L365.8 423.6L366.0 477.4L366.2 490.0L366.5 477.4L366.8 490.0L367.0 477.4L367.2 398.6L367.5 477.4L367.8 443.5L368.0 477.4L368.2 423.6L368.5 477.4L368.8 423.6L369.0 477.4L369.2 389.7L369.5 423.6L369.8 443.5L370.0 443.5L370.2 477.4L370.5 423.6L370.8 398.6L371.0 443.5L371.2 423.6L371.5 490.0L371.8 423.6L372.0 443.5L372.2 398.6L372.5 490.0L372.8 443.5L373.0 490.0L373.2 443.5L373.5 443.5L373.8 443.5L374.0 477.4L374.2 490.0L374.5 477.4L374.8 443.5L375.0 443.5L375.2 389.7L375.5 423.6L375.8 443.5L376.0 477.4L376.2 477.4L376.5 443.5L376.8 423.6L377.0 423.6L377.2 477.4L377.5 477.4L377.8 423.6L378.0 443.5L378.2 398.6L378.5 443.5L378.8 477.4L379.0 389.7L379.2 423.6L379.5 490.0L379.8 423.6L380.0 389.7L380.2 398.6L380.5 443.5L380.8 423.6L381.0 423.6L381.2 490.0L381.5 477.4L381.8 443.5L382.0 423.6L382.2 443.5L382.5 409.5L382.8 443.5L383.0 477.4L383.2 443.5L383.5 423.6L383.8 375.6L384.0 382.1L384.2 477.4L384.5 423.6L384.8 490.0L385.0 477.4L385.2 443.5L385.5 477.4L385.8 398.6L386.0 477.4L386.2 477.4L386.5 477.4L386.8 423.6L387.0 409.5L387.2 490.0L387.5 409.5L387.8 490.0L388.0 409.5L388.2 389.7L388.5 423.6L388.8 490.0L389.0 409.5L389.2 477.4L389.5 409.5L389.8 490.0L390.0 477.4L390.2 477.4L390.5 389.7L390.8 490.0L391.0 477.4L391.2 490.0L391.5 477.4L391.8 423.6L392.0 490.0L392.2 382.1L392.5 443.5L392.8 490.0L393.0 477.4L393.2 443.5L393.5 443.5L393.8 477.4L394.0 398.6L394.2 382.1L394.5 477.4L394.8 409.5L395.0 490.0L395.2 443.5L395.5 477.4L395.8 423.6L396.0 409.5L396.2 443.5L396.5 443.5L396.8 423.6L397.0 443.5L397.2 477.4L397.5 423.6L397.8 409.5L398.0 443.5L398.2 423.6L398.5 409.5L398.8 443.5L399.0 477.4L399.2 477.4L399.5 423.6L399.8 409.5L400.0 409.5L400.2 423.6L400.5 490.0L400.8 423.6L401.0 477.4L401.2 477.4L401.5 477.4L401.8 490.0L402.0 409.5L402.2 389.7L402.5 443.5L402.8 490.0L403.0 409.5L403.2 443.5L403.5 423.6L403.8 443.5L404.0 490.0L404.2 477.4L404.5 409.5L404.8 409.5L405.0 477.4L405.2 477.4L405.5 443.5L405.8 477.4L406.0 443.5L406.2 477.4L406.5 423.6L406.8 443.5L407.0 423.6L407.2 423.6L407.5 443.5L407.8 477.4L408.0 409.5L408.2 490.0L408.5 443.5L408.8 423.6L409.0 490.0L409.2 477.4L409.5 423.6L409.8 443.5L410.0 423.6L410.2 477.4L410.5 409.5L410.8 398.6L411.0 423.6L411.2 423.6L411.5 477.4L411.8 423.6L412.0 443.5L412.2 443.5L412.5 423.6L412.8 477.4L413.0 490.0L413.2 409.5L413.5 423.6L413.8 443.5L414.0 443.5L414.2 398.6L414.5 443.5L414.8 409.5L415.0 398.6L415.2 409.5L415.5 490.0L415.8 423.6L416.0 443.5L416.2 423.6L416.5 490.0L416.8 409.5L417.0 443.5L417.2 443.5L417.5 443.5L417.8 443.5L418.0 423.6L418.2 477.4L418.5 398.6L418.8 409.5L419.0 409.5L419.2 409.5L419.5 443.5L419.8 423.6L420.0 443.5L420.2 443.5L420.5 477.4L420.8 423.6L421.0 490.0L421.2 443.5L421.5 423.6L421.8 443.5L422.0 443.5L422.2 443.5L422.5 443.5L422.8 490.0L423.0 443.5L423.2 443.5L423.5 443.5L423.8 423.6L424.0 443.5L424.2 443.5L424.5 423.6L424.8 443.5L425.0 409.5L425.2 423.6L425.5 477.4L425.8 477.4L426.0 443.5L426.2 423.6L426.5 398.6L426.8 443.5L427.0 443.5L427.2 490.0L427.5 398.6L427.8 423.6L428.0 490.0L428.2 490.0L428.5 490.0L428.8 477.4L429.0 398.6L429.2 490.0L429.5 477.4L429.8 423.6L430.0 443.5L430.2 477.4L430.5 443.5L430.8 443.5L431.0 490.0L431.2 443.5L431.5 477.4L431.8 443.5L432.0 398.6L432.2 423.6L432.5 423.6L432.8 423.6L433.0 423.6L433.2 423.6L433.5 477.4L433.8 409.5L434.0 443.5L434.2 423.6L434.5 490.0L434.8 443.5L435.0 409.5L435.2 409.5L435.5 423.6L435.8 477.4L436.0 423.6L436.2 423.6L436.5 389.7L436.8 423.6L437.0 423.6L437.2 382.1L437.5 477.4L437.8 398.6L438.0 423.6L438.2 443.5L438.5 443.5L438.8 389.7L439.0 423.6L439.2 443.5L439.5 423.6L439.8 409.5L440.0 443.5L440.2 477.4L440.5 423.6L440.8 443.5L441.0 443.5L441.2 477.4L441.5 477.4L441.8 398.6L442.0 398.6L442.2 423.6L442.5 409.5L442.8 423.6L443.0 443.5L443.2 375.6L443.5 423.6L443.8 443.5L444.0 443.5L444.2 382.1L444.5 423.6L444.8 409.5L445.0 398.6L445.2 490.0L445.5 443.5L445.8 477.4L446.0 398.6L446.2 423.6L446.5 477.4L446.8 423.6L447.0 443.5L447.2 409.5L447.5 443.5L447.8 477.4L448.0 490.0L448.2 409.5L448.5 443.5L448.8 423.6L449.0 409.5L449.2 423.6L449.5 477.4L449.8 443.5L450.0 423.6L450.2 409.5L450.5 443.5L450.8 443.5L451.0 443.5L451.2 443.5L451.5 490.0L451.8 409.5L452.0 477.4L452.2 423.6L452.5 443.5L452.8 477.4L453.0 398.6L453.2 490.0L453.5 477.4L453.8 443.5L454.0 477.4L454.2 477.4L454.5 409.5L454.8 490.0L455.0 409.5L455.2 477.4L455.5 477.4L455.8 443.5L456.0 443.5L456.2 490.0L456.5 477.4L456.8 423.6L457.0 477.4L457.2 409.5L457.5 423.6L457.8 490.0L458.0 477.4L458.2 477.4L458.5 477.4L458.8 423.6L459.0 490.0L459.2 423.6L459.5 477.4L459.8 490.0L460.0 443.5L460.2 490.0L460.5 398.6L460.8 477.4L461.0 443.5L461.2 423.6L461.5 477.4L461.8 443.5L462.0 443.5L462.2 477.4L462.5 423.6L462.8 423.6L463.0 443.5L463.2 423.6L463.5 490.0L463.8 477.4L464.0 490.0L464.2 490.0L464.5 477.4L464.8 443.5L465.0 423.6L465.2 398.6L465.5 490.0L465.8 477.4L466.0 477.4L466.2 443.5L466.5 423.6L466.8 423.6L467.0 477.4L467.2 409.5L467.5 443.5L467.8 423.6L468.0 423.6L468.2 423.6L468.5 443.5L468.8 443.5L469.0 477.4L469.2 477.4L469.5 423.6L469.8 443.5L470.0 409.5L470.2 477.4L470.5 382.1L470.8 423.6L471.0 443.5L471.2 443.5L471.5 423.6L471.8 477.4L472.0 443.5L472.2 477.4L472.5 443.5L472.8 443.5L473.0 490.0L473.2 443.5L473.5 443.5L473.8 423.6L474.0 490.0L474.2 443.5L474.5 423.6L474.8 423.6L475.0 443.5L475.2 477.4L475.5 443.5L475.8 443.5L476.0 443.5L476.2 443.5L476.5 477.4L476.8 477.4L477.0 477.4L477.2 477.4L477.5 477.4L477.8 443.5L478.0 443.5L478.2 490.0L478.5 423.6L478.8 477.4L479.0 423.6L479.2 398.6L479.5 443.5L479.8 443.5L480.0 490.0L480.2 423.6L480.5 477.4L480.8 443.5L481.0 477.4L481.2 477.4L481.5 423.6L481.8 477.4L482.0 443.5L482.2 443.5L482.5 490.0L482.8 423.6L483.0 443.5L483.2 423.6L483.5 423.6L483.8 423.6L484.0 477.4L484.2 389.7L484.5 443.5L484.8 409.5L485.0 443.5L485.2 477.4L485.5 490.0L485.8 477.4L486.0 409.5L486.2 443.5L486.5 477.4L486.8 443.5L487.0 490.0L487.2 443.5L487.5 409.5L487.8 389.7L488.0 490.0L488.2 490.0L488.5 423.6L488.8 477.4L489.0 423.6L489.2 443.5L489.5 409.5L489.8 409.5L490.0 409.5L490.2 375.6L490.5 477.4L490.8 423.6L491.0 423.6L491.2 423.6L491.5 443.5L491.8 409.5L492.0 423.6L492.2 443.5L492.5 490.0L492.8 443.5L493.0 409.5L493.2 423.6L493.5 443.5L493.8 490.0L494.0 477.4L494.2 398.6L494.5 443.5L494.8 423.6L495.0 423.6L495.2 423.6L495.5 443.5L495.8 443.5L496.0 477.4L496.2 409.5L496.5 477.4L496.8 423.6L497.0 477.4L497.2 409.5L497.5 443.5L497.8 477.4L498.0 409.5L498.2 409.5L498.5 398.6L498.8 490.0L499.0 443.5L499.2 389.7L499.5 443.5L499.8 409.5L500.0 443.5L500.2 490.0L500.5 443.5L500.8 443.5L501.0 423.6L501.2 443.5L501.5 423.6L501.8 423.6L502.0 409.5L502.2 398.6L502.5 423.6L502.8 443.5L503.0 443.5L503.2 477.4L503.5 477.4L503.8 409.5L504.0 443.5L504.2 490.0L504.5 477.4L504.8 477.4L505.0 477.4L505.2 477.4L505.5 477.4L505.8 409.5L506.0 409.5L506.2 443.5L506.5 398.6L506.8 490.0L507.0 423.6L507.2 443.5L507.5 423.6L507.8 423.6L508.0 477.4L508.2 477.4L508.5 490.0L508.8 423.6L509.0 443.5L509.2 443.5L509.5 477.4L509.8 490.0L510.0 477.4L510.2 423.6L510.5 398.6L510.8 409.5L511.0 423.6L511.2 409.5L511.5 398.6L511.8 398.6L512.0 443.5L512.2 477.4L512.5 490.0L512.8 423.6L513.0 423.6L513.2 423.6L513.5 443.5L513.8 490.0L514.0 443.5L514.2 477.4L514.5 443.5L514.8 477.4L515.0 443.5L515.2 443.5L515.5 398.6L515.8 490.0L516.0 423.6L516.2 490.0L516.5 409.5L516.8 490.0L517.0 490.0L517.2 443.5L517.5 443.5L517.8 490.0L518.0 423.6L518.2 443.5L518.5 443.5L518.8 443.5L519.0 477.4L519.2 490.0L519.5 423.6L519.8 443.5L520.0 490.0L520.2 409.5L520.5 409.5L520.8 443.5L521.0 423.6L521.2 423.6L521.5 423.6L521.8 423.6L522.0 490.0L522.2 423.6L522.5 409.5L522.8 409.5L523.0 423.6L523.2 423.6L523.5 443.5L523.8 423.6L524.0 398.6L524.2 443.5L524.5 423.6L524.8 443.5L525.0 443.5L525.2 398.6L525.5 477.4L525.8 443.5L526.0 477.4L526.2 398.6L526.5 423.6L526.8 443.5L527.0 389.7L527.2 409.5L527.5 477.4L527.8 490.0L528.0 490.0L528.2 477.4L528.5 477.4L528.8 477.4L529.0 423.6L529.2 409.5L529.5 423.6L529.8 443.5L530.0 409.5L530.2 443.5L530.5 423.6L530.8 443.5L531.0 423.6L531.2 423.6L531.5 477.4L531.8 423.6L532.0 477.4L532.2 443.5L532.5 477.4L532.8 443.5L533.0 477.4L533.2 490.0L533.5 423.6L533.8 423.6L534.0 409.5L534.2 398.6L534.5 443.5L534.8 477.4L535.0 423.6L535.2 443.5L535.5 443.5L535.8 423.6L536.0 382.1L536.2 443.5L536.5 477.4L536.8 443.5L537.0 490.0L537.2 443.5L537.5 398.6L537.8 477.4L538.0 423.6L538.2 423.6L538.5 477.4L538.8 443.5L539.0 443.5L539.2 490.0L539.5 477.4L539.8 409.5L540.0 443.5L540.2 477.4L540.5 423.6L540.8 423.6L541.0 423.6L541.2 443.5L541.5 443.5L541.8 477.4L542.0 409.5L542.2 443.5L542.5 423.6L542.8 443.5L543.0 443.5L543.2 490.0L543.5 409.5L543.8 423.6L544.0 423.6L544.2 443.5L544.5 443.5L544.8 423.6L545.0 423.6L545.2 409.5L545.5 443.5L545.8 423.6L546.0 409.5L546.2 477.4L546.5 443.5L546.8 443.5L547.0 423.6L547.2 490.0L547.5 423.6L547.8 398.6L548.0 443.5L548.2 382.1L548.5 423.6L548.8 443.5L549.0 443.5L549.2 423.6L549.5 477.4L549.8 477.4L550.0 477.4L550.2 423.6L550.5 490.0L550.8 443.5L551.0 443.5L551.2 389.7L551.5 477.4L551.8 423.6L552.0 443.5L552.2 423.6L552.5 477.4L552.8 443.5L553.0 443.5L553.2 477.4L553.5 490.0L553.8 398.6L554.0 443.5L554.2 490.0L554.5 409.5L554.8 477.4L555.0 423.6L555.2 398.6L555.5 477.4L555.8 443.5L556.0 443.5L556.2 477.4L556.5 423.6L556.8 477.4L557.0 423.6L557.2 477.4L557.5 490.0L557.8 443.5L558.0 443.5L558.2 423.6L558.5 423.6L558.8 490.0L559.0 490.0L559.2 490.0L559.5 477.4L559.8 443.5L560.0 409.5L560.2 423.6L560.5 477.4L560.8 477.4L561.0 443.5L561.2 423.6L561.5 409.5L561.8 477.4L562.0 477.4L562.2 443.5L562.5 490.0L562.8 389.7L563.0 409.5L563.2 389.7L563.5 443.5L563.8 389.7L564.0 443.5L564.2 423.6L564.5 477.4L564.8 423.6L565.0 375.6L565.2 477.4L565.5 443.5L565.8 389.7L566.0 443.5L566.2 477.4L566.5 423.6L566.8 443.5L567.0 443.5L567.2 443.5L567.5 443.5L567.8 389.7L568.0 477.4L568.2 477.4L568.5 477.4L568.8 477.4L569.0 490.0L569.2 409.5L569.5 423.6L569.8 443.5L570.0 477.4L570.2 443.5L570.5 423.6L570.8 443.5L571.0 443.5L571.2 423.6L571.5 409.5L571.8 409.5L572.0 423.6L572.2 443.5L572.5 398.6L572.8 398.6L573.0 443.5L573.2 477.4L573.5 477.4L573.8 423.6L574.0 477.4L574.2 477.4L574.5 477.4L574.8 490.0L575.0 443.5L575.2 443.5L575.5 423.6L575.8 443.5L576.0 443.5L576.2 490.0L576.5 423.6L576.8 409.5L577.0 477.4L577.2 490.0L577.5 490.0L577.8 423.6L578.0 398.6L578.2 409.5L578.5 443.5L578.8 477.4L579.0 423.6L579.2 389.7L579.5 477.4L579.8 477.4L580.0 490.0L580.2 398.6L580.5 409.5L580.8 443.5L581.0 389.7L581.2 477.4L581.5 409.5L581.8 477.4L582.0 477.4L582.2 490.0L582.5 443.5L582.8 477.4L583.0 398.6L583.2 423.6L583.5 423.6L583.8 443.5L584.0 409.5L584.2 477.4L584.5 477.4L584.8 423.6L585.0 490.0L585.2 423.6L585.5 477.4L585.8 389.7L586.0 423.6L586.2 477.4L586.5 477.4L586.8 443.5L587.0 477.4L587.2 423.6L587.5 477.4L587.8 477.4L588.0 443.5L588.2 443.5L588.5 423.6L588.8 477.4L589.0 423.6L589.2 409.5L589.5 398.6L589.8 443.5L590.0 477.4L590.2 443.5L590.5 423.6L590.8 398.6L591.0 443.5L591.2 443.5L591.5 443.5L591.8 490.0L592.0 443.5L592.2 409.5L592.5 443.5L592.8 443.5L593.0 423.6L593.2 477.4L593.5 443.5L593.8 409.5L594.0 423.6L594.2 382.1L594.5 423.6L594.8 477.4L595.0 490.0L595.2 443.5L595.5 443.5L595.8 477.4L596.0 477.4L596.2 443.5L596.5 490.0L596.8 443.5L597.0 443.5L597.2 423.6L597.5 490.0L597.8 398.6L598.0 443.5L598.2 477.4L598.5 423.6L598.8 423.6L599.0 490.0L599.2 477.4L599.5 490.0L599.8 409.5L600.0 443.5L600.2 423.6L600.5 477.4L600.8 423.6L601.0 409.5L601.2 423.6L601.5 423.6L601.8 477.4L602.0 490.0L602.2 477.4L602.5 409.5L602.8 423.6L603.0 477.4L603.2 423.6L603.5 409.5L603.8 423.6L604.0 490.0L604.2 409.5L604.5 477.4L604.8 423.6L605.0 477.4L605.2 477.4L605.5 443.5L605.8 477.4L606.0 443.5L606.2 443.5L606.5 398.6L606.8 423.6L607.0 389.7L607.2 443.5L607.5 477.4L607.8 389.7L608.0 423.6L608.2 443.5L608.5 423.6L608.8 375.6L609.0 443.5L609.2 477.4L609.5 443.5L609.8 477.4L610.0 398.6L610.2 409.5L610.5 409.5L610.8 477.4L611.0 423.6L611.2 477.4L611.5 477.4L611.8 490.0L612.0 490.0L612.2 477.4L612.5 423.6L612.8 382.1L613.0 423.6L613.2 423.6L613.5 490.0L613.8 443.5L614.0 477.4L614.2 490.0L614.5 477.4L614.8 477.4L615.0 443.5L615.2 423.6L615.5 477.4L615.8 443.5L616.0 409.5L616.2 423.6L616.5 477.4L616.8 490.0L617.0 443.5L617.2 443.5L617.5 477.4L617.8 443.5L618.0 398.6L618.2 443.5L618.5 423.6L618.8 423.6L619.0 398.6L619.2 409.5L619.5 443.5L619.8 490.0L620.0 477.4L620.2 443.5L620.5 490.0L620.8 477.4L621.0 490.0L621.2 423.6L621.5 477.4L621.8 423.6L622.0 398.6L622.2 443.5L622.5 443.5L622.8 477.4L623.0 477.4L623.2 490.0L623.5 490.0L623.8 443.5L624.0 490.0L624.2 490.0L624.5 398.6L624.8 423.6L625.0 477.4L625.2 443.5L625.5 443.5L625.8 443.5L626.0 490.0L626.2 443.5L626.5 490.0L626.8 409.5L627.0 490.0L627.2 490.0L627.5 443.5L627.8 423.6L628.0 477.4L628.2 490.0L628.5 409.5L628.8 443.5L629.0 423.6L629.2 423.6L629.5 409.5L629.8 409.5L630.0 477.4L630.2 477.4L630.5 443.5L630.8 423.6L631.0 490.0L631.2 443.5L631.5 490.0L631.8 477.4L632.0 490.0L632.2 423.6L632.5 477.4L632.8 477.4L633.0 423.6L633.2 477.4L633.5 423.6L633.8 423.6L634.0 423.6L634.2 477.4L634.5 409.5L634.8 443.5L635.0 443.5L635.2 443.5L635.5 423.6L635.8 477.4L636.0 398.6L636.2 423.6L636.5 443.5L636.8 477.4L637.0 423.6L637.2 477.4L637.5 490.0L637.8 398.6L638.0 443.5L638.2 443.5L638.5 443.5L638.8 409.5L639.0 443.5L639.2 477.4L639.5 423.6L639.8 398.6L640.0 477.4L640.2 409.5L640.5 443.5L640.8 423.6L641.0 423.6L641.2 443.5L641.5 477.4L641.8 423.6L642.0 477.4L642.2 443.5L642.5 477.4L642.8 477.4L643.0 490.0L643.2 423.6L643.5 477.4L643.8 423.6L644.0 423.6L644.2 490.0L644.5 423.6L644.8 477.4L645.0 409.5L645.2 443.5L645.5 477.4L645.8 477.4L646.0 443.5L646.2 443.5L646.5 409.5L646.8 423.6L647.0 389.7L647.2 398.6L647.5 443.5L647.8 490.0L648.0 398.6L648.2 443.5L648.5 490.0L648.8 409.5L649.0 490.0L649.2 423.6L649.5 423.6L649.8 409.5L650.0 409.5L650.2 409.5L650.5 443.5L650.8 477.4L651.0 443.5L651.2 423.6L651.5 477.4L651.8 423.6L652.0 490.0L652.2 409.5L652.5 423.6L652.8 443.5L653.0 409.5L653.2 490.0L653.5 490.0L653.8 477.4L654.0 443.5L654.2 423.6L654.5 398.6L654.8 490.0L655.0 389.7L655.2 423.6L655.5 477.4L655.8 398.6L656.0 443.5L656.2 443.5L656.5 423.6L656.8 477.4L657.0 389.7L657.2 443.5L657.5 477.4L657.8 490.0L658.0 443.5L658.2 477.4L658.5 443.5L658.8 423.6L659.0 443.5L659.2 477.4L659.5 490.0L659.8 443.5L660.0 477.4L660.2 398.6L660.5 477.4L660.8 477.4L661.0 443.5L661.2 477.4L661.5 443.5L661.8 477.4L662.0 409.5L662.2 443.5L662.5 490.0L662.8 423.6L663.0 443.5L663.2 423.6L663.5 490.0L663.8 443.5L664.0 443.5L664.2 477.4L664.5 423.6L664.8 443.5L665.0 490.0L665.2 490.0L665.5 443.5L665.8 490.0L666.0 409.5L666.2 443.5L666.5 443.5L666.8 477.4L667.0 443.5L667.2 443.5L667.5 490.0L667.8 423.6L668.0 443.5L668.2 477.4L668.5 423.6L668.8 477.4L669.0 423.6L669.2 477.4L669.5 443.5L669.8 443.5L670.0 477.4L670.2 423.6L670.5 423.6L670.8 477.4L671.0 490.0L671.2 443.5L671.5 477.4L671.8 477.4L672.0 477.4L672.2 409.5L672.5 443.5L672.8 477.4L673.0 443.5L673.2 409.5L673.5 477.4L673.8 409.5L674.0 477.4L674.2 443.5L674.5 443.5L674.8 477.4L675.0 490.0L675.2 423.6L675.5 443.5L675.8 409.5L676.0 423.6L676.2 398.6L676.5 389.7L676.8 443.5L677.0 477.4L677.2 443.5L677.5 490.0L677.8 443.5L678.0 389.7L678.2 409.5L678.5 423.6L678.8 409.5L679.0 490.0L679.2 477.4L679.5 477.4L679.8 477.4L680.0 443.5L680.2 443.5L680.5 423.6L680.8 423.6L681.0 375.6L681.2 409.5L681.5 423.6L681.8 443.5L682.0 443.5L682.2 477.4L682.5 477.4L682.8 389.7L683.0 443.5L683.2 477.4L683.5 477.4L683.8 477.4L684.0 477.4L684.2 477.4L684.5 409.5L684.8 409.5L685.0 409.5L685.2 443.5L685.5 490.0L685.8 477.4L686.0 443.5L686.2 409.5L686.5 477.4L686.8 490.0L687.0 375.6L687.2 477.4L687.5 423.6L687.8 490.0L688.0 477.4L688.2 409.5L688.5 443.5L688.8 409.5L689.0 477.4L689.2 477.4L689.5 477.4L689.8 443.5L690.0 409.5L690.2 423.6L690.5 409.5L690.8 423.6L691.0 490.0L691.2 490.0L691.5 389.7L691.8 409.5L692.0 423.6L692.2 490.0L692.5 477.4L692.8 409.5" stroke="#000000" stroke-width="2.6" fill="none" stroke-linejoin="round"/>
</g>
<rect x="124.5" y="11" width="565" height="455.5" fill="none" stroke="#000" stroke-width="2"/>
<g stroke="#000" stroke-width="2" fill="none">
<path d="M115.5 466.50H124M119.8 432.56H124M119.8 412.70H124M119.8 398.62H124M119.8 387.69H124M119.8 378.76H124M119.8 371.22H124M119.8 364.68H124M119.8 358.91H124M115.5 353.75H124M119.8 319.81H124M119.8 299.95H124M119.8 285.87H124M119.8 274.94H124M119.8 266.01H124M119.8 258.47H124M119.8 251.93H124M119.8 246.16H124M115.5 241.00H124M119.8 207.06H124M119.8 187.20H124M119.8 173.12H124M119.8 162.19H124M119.8 153.26H124M119.8 145.72H124M119.8 139.18H124M119.8 133.41H124M115.5 128.25H124M119.8 94.31H124M119.8 74.45H124M119.8 60.37H124M119.8 49.44H124M119.8 40.51H124M119.8 32.97H124M119.8 26.43H124M119.8 20.66H124M115.5 15.50H124M124.75 467V475.5M146.47 467V471.8M168.20 467V475.5M189.93 467V471.8M211.65 467V475.5M233.38 467V471.8M255.10 467V475.5M276.82 467V471.8M298.55 467V475.5M320.27 467V471.8M342.00 467V475.5M363.73 467V471.8M385.45 467V475.5M407.18 467V471.8M428.90 467V475.5M450.62 467V471.8M472.35 467V475.5M494.07 467V471.8M515.80 467V475.5M537.52 467V471.8M559.25 467V475.5M580.97 467V471.8M602.70 467V475.5M624.42 467V471.8M646.15 467V475.5M667.88 467V471.8M689.60 467V475.5"/>
</g>
<g class="tk">
<g transform="translate(109.4,475.80) scale(1.0,1.047)"><path transform="translate(-16.68,0) scale(0.01465,-0.01465)" d="M763 0L583 0L583 1147Q518 1085 414 1024Q311 963 223 930L223 1104Q374 1175 476 1267Q577 1358 635 1409L763 1409Z" stroke="#000" stroke-width="20.5"/></g>
<g transform="translate(109.4,363.05) scale(1.0,1.047)"><text x="0" y="0" text-anchor="end">0</text><path transform="translate(-33.37,0) scale(0.01465,-0.01465)" d="M763 0L583 0L583 1147Q518 1085 414 1024Q311 963 223 930L223 1104Q374 1175 476 1267Q577 1358 635 1409L763 1409Z" stroke="#000" stroke-width="20.5"/></g>
<g transform="translate(109.4,250.30) scale(1.0,1.047)"><text x="0" y="0" text-anchor="end">00</text><path transform="translate(-50.05,0) scale(0.01465,-0.01465)" d="M763 0L583 0L583 1147Q518 1085 414 1024Q311 963 223 930L223 1104Q374 1175 476 1267Q577 1358 635 1409L763 1409Z" stroke="#000" stroke-width="20.5"/></g>
<g transform="translate(109.4,137.55) scale(1.0,1.047)"><text x="0" y="0" text-anchor="end">000</text><path transform="translate(-66.74,0) scale(0.01465,-0.01465)" d="M763 0L583 0L583 1147Q518 1085 414 1024Q311 963 223 930L223 1104Q374 1175 476 1267Q577 1358 635 1409L763 1409Z" stroke="#000" stroke-width="20.5"/></g>
<g transform="translate(109.4,24.80) scale(1.0,1.047)"><text x="0" y="0" text-anchor="end">0000</text><path transform="translate(-83.42,0) scale(0.01465,-0.01465)" d="M763 0L583 0L583 1147Q518 1085 414 1024Q311 963 223 930L223 1104Q374 1175 476 1267Q577 1358 635 1409L763 1409Z" stroke="#000" stroke-width="20.5"/></g>
<text transform="translate(124.75,505.7) scale(1.0,1.047)" text-anchor="middle">25</text>
<text transform="translate(168.20,505.7) scale(1.0,1.047)" text-anchor="middle">30</text>
<text transform="translate(211.65,505.7) scale(1.0,1.047)" text-anchor="middle">35</text>
<text transform="translate(255.10,505.7) scale(1.0,1.047)" text-anchor="middle">40</text>
<text transform="translate(298.55,505.7) scale(1.0,1.047)" text-anchor="middle">45</text>
<text transform="translate(342.00,505.7) scale(1.0,1.047)" text-anchor="middle">50</text>
<text transform="translate(385.45,505.7) scale(1.0,1.047)" text-anchor="middle">55</text>
<text transform="translate(428.90,505.7) scale(1.0,1.047)" text-anchor="middle">60</text>
<text transform="translate(472.35,505.7) scale(1.0,1.047)" text-anchor="middle">65</text>
<text transform="translate(515.80,505.7) scale(1.0,1.047)" text-anchor="middle">70</text>
<text transform="translate(559.25,505.7) scale(1.0,1.047)" text-anchor="middle">75</text>
<text transform="translate(602.70,505.7) scale(1.0,1.047)" text-anchor="middle">80</text>
<text transform="translate(646.15,505.7) scale(1.0,1.047)" text-anchor="middle">85</text>
<text transform="translate(689.60,505.7) scale(1.0,1.047)" text-anchor="middle">90</text>
</g>
<g class="ax">
<text x="337" y="543.4">time (ns)</text>
<text transform="translate(24.8,348) rotate(-90)">intensity (a.u)</text>
</g>
<line x1="444" y1="50.6" x2="498.5" y2="50.6" stroke="#00d000" stroke-width="2.8"/>
<line x1="444" y1="91.0" x2="498.5" y2="91.0" stroke="#0000f0" stroke-width="2.8"/>
<line x1="444" y1="132.0" x2="498.5" y2="132.0" stroke="#ff0000" stroke-width="2.8"/>
<line x1="444" y1="172.9" x2="498.5" y2="172.9" stroke="#000000" stroke-width="2.8"/>
<text transform="translate(504.6,58.5) scale(1,1.04)" class="lg">Cs<tspan class="sb" dy="7">3</tspan><tspan dy="-7">Bi</tspan><tspan class="sb" dy="7">2</tspan><tspan dy="-7">I</tspan><tspan class="sb" dy="7">9</tspan></text>
<text transform="translate(504.6,99.2) scale(1,1.04)" class="lg">Cs<tspan class="sb" dy="7">3</tspan><tspan dy="-7">Bi</tspan><tspan class="sb" dy="7">2</tspan><tspan dy="-7">Br</tspan><tspan class="sb" dy="7">9</tspan></text>
<text transform="translate(504.6,139.9) scale(1,1.04)" class="lg">Cs<tspan class="sb" dy="7">3</tspan><tspan dy="-7">Bi</tspan><tspan class="sb" dy="7">2</tspan><tspan dy="-7">Cl</tspan><tspan class="sb" dy="7">9</tspan></text>
<text transform="translate(504.6,180.6) scale(1,1.04)" class="lg">IRF</text>
</svg>
</body></html>
